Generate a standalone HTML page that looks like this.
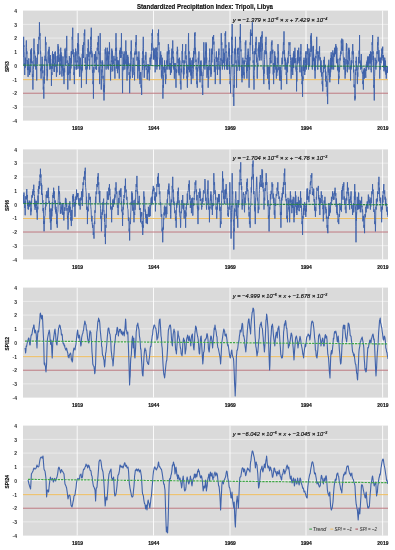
<!DOCTYPE html><html><head><meta charset="utf-8"><style>
html,body{margin:0;padding:0;background:#fff;overflow:hidden;}
svg{display:block;}
text{font-family:"Liberation Sans",sans-serif;}
</style></head><body>
<svg width="395" height="550" viewBox="0 0 395 550">
<defs><filter id="bl" x="-5%" y="-5%" width="110%" height="110%"><feGaussianBlur stdDeviation="0.3"/></filter><filter id="bt" x="-5%" y="-5%" width="110%" height="110%"><feGaussianBlur stdDeviation="0.0001"/></filter></defs>
<rect x="0" y="0" width="395" height="550" fill="#fff"/>
<g filter="url(#bl)">

<rect x="23.0" y="10.6" width="365.0" height="110.0" fill="#dadada"/>
<line x1="23.0" x2="388.0" y1="106.85" y2="106.85" stroke="#f6f6f6" stroke-width="0.6"/>
<line x1="23.0" x2="388.0" y1="93.10" y2="93.10" stroke="#f6f6f6" stroke-width="0.6"/>
<line x1="23.0" x2="388.0" y1="79.35" y2="79.35" stroke="#f6f6f6" stroke-width="0.6"/>
<line x1="23.0" x2="388.0" y1="65.60" y2="65.60" stroke="#f6f6f6" stroke-width="0.6"/>
<line x1="23.0" x2="388.0" y1="51.85" y2="51.85" stroke="#f6f6f6" stroke-width="0.6"/>
<line x1="23.0" x2="388.0" y1="38.10" y2="38.10" stroke="#f6f6f6" stroke-width="0.6"/>
<line x1="23.0" x2="388.0" y1="24.35" y2="24.35" stroke="#f6f6f6" stroke-width="0.6"/>
<line x1="77.2" x2="77.2" y1="10.6" y2="120.6" stroke="#fff" stroke-width="0.85"/>
<line x1="153.5" x2="153.5" y1="10.6" y2="120.6" stroke="#fff" stroke-width="0.85"/>
<line x1="230.0" x2="230.0" y1="10.6" y2="120.6" stroke="#fff" stroke-width="0.85"/>
<line x1="306.0" x2="306.0" y1="10.6" y2="120.6" stroke="#fff" stroke-width="0.85"/>
<line x1="382.6" x2="382.6" y1="10.6" y2="120.6" stroke="#fff" stroke-width="0.85"/>
<line x1="23.0" x2="388.0" y1="79.65" y2="79.65" stroke="#efbd5e" stroke-width="1.0"/>
<line x1="23.0" x2="388.0" y1="93.20" y2="93.20" stroke="#a84c55" stroke-width="0.75"/>
<clipPath id="cp0"><rect x="23.0" y="10.6" width="365.0" height="110.0"/></clipPath>
<path clip-path="url(#cp0)" d="M23.09 65.91 L23.23 56.15 L23.37 56.73 L23.50 49.04 L23.64 36.82 L23.77 46.93 L23.91 45.37 L24.05 51.13 L24.18 51.36 L24.32 64.04 L24.45 63.22 L24.59 69.54 L24.73 75.00 L24.87 67.75 L25.00 67.65 L25.13 65.59 L25.27 67.73 L25.41 57.70 L25.55 66.69 L25.68 63.86 L25.82 60.45 L25.95 60.83 L26.09 46.28 L26.23 43.49 L26.36 40.45 L26.50 47.41 L26.63 51.09 L26.77 54.11 L26.91 51.36 L27.05 58.77 L27.18 64.16 L27.31 60.04 L27.45 69.55 L27.59 68.69 L27.73 70.07 L27.86 66.80 L28.00 76.82 L28.14 76.81 L28.27 68.38 L28.41 69.85 L28.55 60.45 L28.69 58.39 L28.82 58.41 L28.95 61.27 L29.09 65.91 L29.23 65.13 L29.37 70.33 L29.50 69.36 L29.64 75.00 L29.77 67.10 L29.91 66.80 L30.05 66.80 L30.18 69.55 L30.32 72.28 L30.45 58.84 L30.59 62.36 L30.73 51.36 L30.87 54.11 L31.00 49.50 L31.13 54.11 L31.27 49.55 L31.41 63.20 L31.55 48.29 L31.68 58.96 L31.82 60.45 L31.95 63.28 L32.09 61.41 L32.23 70.69 L32.36 76.82 L32.50 74.07 L32.63 74.07 L32.77 79.36 L32.91 89.55 L33.05 77.76 L33.18 76.78 L33.31 77.00 L33.45 69.55 L33.59 64.63 L33.73 59.43 L33.86 47.77 L34.00 38.64 L34.14 54.11 L34.27 50.55 L34.41 53.02 L34.55 51.36 L34.69 51.63 L34.82 54.85 L34.95 58.84 L35.09 64.09 L35.23 66.84 L35.37 55.89 L35.50 55.89 L35.64 58.64 L35.77 61.39 L35.91 69.37 L36.05 65.98 L36.18 69.55 L36.32 66.80 L36.45 66.80 L36.59 68.08 L36.73 80.45 L36.86 59.50 L37.00 57.70 L37.14 63.92 L37.27 60.45 L37.41 60.48 L37.55 53.24 L37.68 51.68 L37.82 44.09 L37.95 52.70 L38.09 54.11 L38.23 54.11 L38.36 51.36 L38.50 54.11 L38.63 52.63 L38.77 39.17 L38.91 36.82 L39.05 39.57 L39.18 39.57 L39.31 39.57 L39.45 22.27 L39.59 30.02 L39.73 35.93 L39.86 35.93 L40.00 33.18 L40.14 38.01 L40.27 49.23 L40.41 54.11 L40.55 51.36 L40.69 51.69 L40.82 71.16 L40.95 68.75 L41.09 78.64 L41.23 67.83 L41.37 69.31 L41.50 69.96 L41.64 69.55 L41.77 64.35 L41.91 68.40 L42.05 56.87 L42.18 56.82 L42.32 58.51 L42.45 68.56 L42.59 65.02 L42.73 73.18 L42.86 70.43 L43.00 77.06 L43.14 81.96 L43.27 89.55 L43.41 86.80 L43.55 86.80 L43.68 86.80 L43.82 98.64 L43.95 80.00 L44.09 76.68 L44.23 83.55 L44.36 78.64 L44.50 65.16 L44.63 75.46 L44.77 59.28 L44.91 60.45 L45.05 55.79 L45.18 60.64 L45.31 60.42 L45.45 36.82 L45.59 45.02 L45.73 45.02 L45.86 45.02 L46.00 42.27 L46.14 56.78 L46.27 61.38 L46.41 59.52 L46.55 60.45 L46.69 66.05 L46.82 70.18 L46.95 69.53 L47.09 80.45 L47.23 73.12 L47.37 70.21 L47.50 76.34 L47.64 65.91 L47.77 62.94 L47.91 56.98 L48.05 55.47 L48.18 51.36 L48.32 54.11 L48.45 54.11 L48.59 53.59 L48.73 49.55 L48.86 59.26 L49.00 63.20 L49.14 46.80 L49.27 60.45 L49.41 57.70 L49.55 65.47 L49.68 67.45 L49.82 69.55 L49.95 66.17 L50.09 60.67 L50.23 64.83 L50.36 55.00 L50.50 62.04 L50.63 58.98 L50.77 68.66 L50.91 65.91 L51.05 68.82 L51.18 66.32 L51.31 71.32 L51.45 85.91 L51.59 72.25 L51.73 72.25 L51.86 72.25 L52.00 75.00 L52.14 63.49 L52.27 68.76 L52.41 53.83 L52.55 51.36 L52.69 58.60 L52.82 63.20 L52.95 63.20 L53.09 60.45 L53.23 63.20 L53.37 54.07 L53.50 59.39 L53.64 56.82 L53.77 60.63 L53.91 67.52 L54.05 71.69 L54.18 69.55 L54.32 63.16 L54.45 71.97 L54.59 63.16 L54.73 65.91 L54.86 65.92 L55.00 52.14 L55.14 59.50 L55.27 51.36 L55.41 63.20 L55.55 57.22 L55.68 60.23 L55.82 60.45 L55.95 66.92 L56.09 65.36 L56.23 66.14 L56.36 76.82 L56.50 76.76 L56.63 73.18 L56.77 66.80 L56.91 69.55 L57.05 72.30 L57.18 56.04 L57.31 65.78 L57.45 56.82 L57.59 55.65 L57.73 56.25 L57.86 57.81 L58.00 44.09 L58.14 54.11 L58.27 54.11 L58.41 46.56 L58.55 51.36 L58.69 49.20 L58.82 62.02 L58.95 54.47 L59.09 60.45 L59.23 57.70 L59.37 57.70 L59.50 73.61 L59.64 75.00 L59.77 71.29 L59.91 74.15 L60.05 63.16 L60.18 65.91 L60.32 61.68 L60.45 53.13 L60.59 61.35 L60.73 47.73 L60.86 57.75 L61.00 52.31 L61.14 57.75 L61.27 55.00 L61.41 67.34 L61.55 63.43 L61.68 56.06 L61.82 75.00 L61.95 76.58 L62.09 67.41 L62.23 64.98 L62.36 67.73 L62.50 67.15 L62.63 66.07 L62.77 70.48 L62.91 58.64 L63.05 56.52 L63.18 69.97 L63.31 73.49 L63.45 71.36 L63.59 75.63 L63.73 68.61 L63.86 68.61 L64.00 84.09 L64.14 76.90 L64.28 70.11 L64.41 68.34 L64.55 69.55 L64.69 72.30 L64.82 61.03 L64.95 48.61 L65.09 51.36 L65.23 57.38 L65.37 50.68 L65.50 65.02 L65.64 62.27 L65.78 63.14 L65.91 56.22 L66.05 57.71 L66.18 47.73 L66.32 50.48 L66.46 50.48 L66.59 50.48 L66.73 35.91 L66.87 53.36 L67.00 62.49 L67.13 63.20 L67.27 60.45 L67.41 74.90 L67.54 65.99 L67.68 78.16 L67.82 89.55 L67.95 72.25 L68.09 72.25 L68.22 72.25 L68.36 75.00 L68.50 72.99 L68.63 63.16 L68.77 64.77 L68.91 65.91 L69.05 60.57 L69.18 60.33 L69.31 56.10 L69.45 56.82 L69.59 61.86 L69.72 73.38 L69.86 66.73 L70.00 80.45 L70.14 71.82 L70.28 73.04 L70.41 66.80 L70.55 69.55 L70.69 57.95 L70.82 60.69 L70.95 68.51 L71.09 60.45 L71.23 51.35 L71.37 55.98 L71.50 63.20 L71.64 51.36 L71.78 54.11 L71.91 52.63 L72.05 54.11 L72.18 36.82 L72.32 39.57 L72.46 39.53 L72.59 36.28 L72.73 27.73 L72.87 43.15 L73.00 54.11 L73.13 49.46 L73.27 51.36 L73.41 53.37 L73.54 57.05 L73.68 55.82 L73.82 75.00 L73.95 72.25 L74.09 72.25 L74.22 72.25 L74.36 84.09 L74.50 66.80 L74.63 68.03 L74.77 66.80 L74.91 69.55 L75.05 52.25 L75.18 62.41 L75.31 55.09 L75.45 55.00 L75.59 48.61 L75.72 49.63 L75.86 55.59 L76.00 51.36 L76.14 54.78 L76.28 63.87 L76.41 65.97 L76.55 69.55 L76.69 67.77 L76.82 64.77 L76.95 69.17 L77.09 60.45 L77.23 62.35 L77.37 59.16 L77.50 43.17 L77.64 44.09 L77.78 46.84 L77.91 46.84 L78.05 46.83 L78.18 33.18 L78.32 46.86 L78.46 54.11 L78.59 44.31 L78.73 51.36 L78.87 60.51 L79.00 68.66 L79.13 56.47 L79.27 65.91 L79.41 68.48 L79.54 76.42 L79.68 66.75 L79.82 76.82 L79.95 69.36 L80.09 69.19 L80.22 57.70 L80.36 60.45 L80.50 59.74 L80.63 62.97 L80.77 67.04 L80.91 69.55 L81.05 66.80 L81.18 66.80 L81.31 66.80 L81.45 87.73 L81.59 67.92 L81.72 72.53 L81.86 66.80 L82.00 69.55 L82.14 56.53 L82.28 53.87 L82.41 70.44 L82.55 47.73 L82.69 57.75 L82.82 57.75 L82.95 44.98 L83.09 55.00 L83.23 57.75 L83.37 57.05 L83.50 57.75 L83.64 42.27 L83.78 45.02 L83.91 45.02 L84.05 45.02 L84.18 33.18 L84.32 34.87 L84.46 35.93 L84.59 35.93 L84.73 29.55 L84.87 42.94 L85.00 57.96 L85.13 63.20 L85.27 60.45 L85.41 57.70 L85.54 57.70 L85.68 62.36 L85.82 69.55 L85.95 66.80 L86.09 66.80 L86.22 66.80 L86.36 84.09 L86.50 79.60 L86.63 71.83 L86.77 66.80 L86.91 69.55 L87.05 54.07 L87.18 68.49 L87.31 62.98 L87.45 56.82 L87.59 59.57 L87.72 58.37 L87.86 48.21 L88.00 49.55 L88.14 52.30 L88.28 39.52 L88.41 45.57 L88.55 42.27 L88.69 51.32 L88.82 56.79 L88.95 52.19 L89.09 60.45 L89.23 59.37 L89.37 63.71 L89.50 64.40 L89.64 69.55 L89.78 65.26 L89.91 60.63 L90.05 55.42 L90.18 51.36 L90.32 54.11 L90.46 51.84 L90.59 45.21 L90.73 36.82 L90.87 39.57 L91.00 39.57 L91.13 39.57 L91.27 27.73 L91.41 47.42 L91.54 49.51 L91.68 53.43 L91.82 51.36 L91.95 57.34 L92.09 53.43 L92.22 64.94 L92.36 69.55 L92.50 72.86 L92.63 71.27 L92.77 69.66 L92.91 84.09 L93.05 81.34 L93.18 81.34 L93.31 81.34 L93.45 98.64 L93.59 76.10 L93.72 67.02 L93.86 72.57 L94.00 69.55 L94.14 57.34 L94.28 54.07 L94.41 54.41 L94.55 56.82 L94.69 63.20 L94.82 57.60 L94.95 54.07 L95.09 60.45 L95.23 55.43 L95.37 61.36 L95.50 60.09 L95.64 51.36 L95.78 59.47 L95.91 68.93 L96.05 66.93 L96.18 69.55 L96.32 63.61 L96.46 65.42 L96.59 69.64 L96.73 56.82 L96.87 59.57 L97.00 59.57 L97.13 48.33 L97.27 47.73 L97.41 50.22 L97.54 50.48 L97.68 48.04 L97.82 42.27 L97.95 45.02 L98.09 45.02 L98.22 45.02 L98.36 35.91 L98.50 47.83 L98.63 54.11 L98.77 54.11 L98.91 51.36 L98.95 56.23 L99.00 60.18 L99.05 72.30 L99.09 69.55 L99.23 66.80 L99.37 73.03 L99.50 75.43 L99.64 84.09 L99.78 66.36 L99.91 53.55 L100.05 54.63 L100.18 33.18 L100.32 54.30 L100.46 61.95 L100.59 63.20 L100.73 60.45 L100.87 68.21 L101.00 76.41 L101.13 78.32 L101.27 89.55 L101.41 78.79 L101.54 75.46 L101.68 71.32 L101.82 69.55 L101.95 72.30 L102.09 62.31 L102.22 63.52 L102.36 60.45 L102.50 68.07 L102.63 62.26 L102.77 70.19 L102.91 78.64 L103.05 75.89 L103.18 75.89 L103.31 82.30 L103.45 91.36 L103.59 88.61 L103.72 88.61 L103.86 88.61 L104.00 100.45 L104.14 84.98 L104.28 92.22 L104.41 84.98 L104.55 87.73 L104.69 80.00 L104.82 64.59 L104.95 63.88 L105.09 51.36 L105.23 49.15 L105.37 54.11 L105.50 54.11 L105.64 47.73 L105.78 49.39 L105.91 62.27 L106.05 68.75 L106.18 69.55 L106.32 57.70 L106.46 57.70 L106.59 58.14 L106.73 60.45 L106.87 57.36 L107.00 51.51 L107.13 57.81 L107.27 47.73 L107.41 57.76 L107.54 59.57 L107.68 59.57 L107.82 56.82 L107.95 68.53 L108.09 68.26 L108.22 56.23 L108.36 69.55 L108.50 59.46 L108.63 54.13 L108.77 51.77 L108.91 51.36 L109.05 54.11 L109.18 53.63 L109.31 54.11 L109.45 42.27 L109.59 45.87 L109.72 50.74 L109.86 60.38 L110.00 65.91 L110.14 63.97 L110.28 65.17 L110.41 68.36 L110.55 80.45 L110.69 66.80 L110.82 72.00 L110.95 68.73 L111.09 69.55 L111.23 64.64 L111.37 60.29 L111.50 61.89 L111.64 60.45 L111.78 48.61 L111.91 54.11 L112.05 58.58 L112.18 51.36 L112.32 50.76 L112.46 62.63 L112.59 64.85 L112.73 71.36 L112.87 59.52 L113.00 62.64 L113.13 61.16 L113.27 62.27 L113.41 63.70 L113.54 63.85 L113.68 59.61 L113.82 56.82 L113.95 55.90 L114.09 61.38 L114.22 63.40 L114.36 69.55 L114.50 70.21 L114.63 68.93 L114.77 66.80 L114.91 78.64 L115.05 58.65 L115.18 60.64 L115.31 55.21 L115.45 51.36 L115.59 48.11 L115.72 51.32 L115.86 46.98 L116.00 33.18 L116.14 49.95 L116.28 50.48 L116.41 50.48 L116.55 47.73 L116.69 68.66 L116.82 56.94 L116.95 67.04 L117.09 65.91 L117.23 64.52 L117.37 70.89 L117.50 63.16 L117.64 73.18 L117.78 60.11 L117.91 64.01 L118.05 64.38 L118.18 60.45 L118.32 68.66 L118.46 61.39 L118.59 67.34 L118.73 65.91 L118.87 67.07 L119.00 69.65 L119.13 68.84 L119.27 78.64 L119.41 64.86 L119.54 65.11 L119.68 52.97 L119.82 51.36 L119.95 54.11 L120.09 49.93 L120.22 54.11 L120.36 47.73 L120.50 57.75 L120.63 55.17 L120.77 57.41 L120.91 55.00 L121.05 57.75 L121.18 52.56 L121.31 45.24 L121.45 33.18 L121.59 50.58 L121.72 54.11 L121.86 54.11 L122.00 51.36 L122.14 56.47 L122.28 75.58 L122.41 80.34 L122.55 93.18 L122.69 72.53 L122.82 70.95 L122.95 66.80 L123.09 69.55 L123.23 70.21 L123.37 57.70 L123.50 63.86 L123.64 60.45 L123.78 56.19 L123.91 53.87 L124.05 60.51 L124.18 51.36 L124.32 65.48 L124.46 60.36 L124.59 58.97 L124.73 69.55 L124.87 68.96 L125.00 63.08 L125.13 63.93 L125.27 60.45 L125.41 63.20 L125.54 63.20 L125.68 51.81 L125.82 40.45 L125.95 54.11 L126.09 54.11 L126.22 54.11 L126.36 51.36 L126.50 58.10 L126.63 64.82 L126.77 58.85 L126.91 78.64 L127.05 80.58 L127.18 77.13 L127.31 66.80 L127.45 69.55 L127.59 57.09 L127.72 54.86 L127.86 68.65 L128.00 56.82 L128.14 58.82 L128.28 62.15 L128.41 61.90 L128.55 65.91 L128.69 65.33 L128.82 63.16 L128.96 68.40 L129.09 75.00 L129.23 72.25 L129.37 74.40 L129.50 78.76 L129.64 93.18 L129.77 80.82 L129.91 75.89 L130.05 75.89 L130.18 78.64 L130.32 70.37 L130.45 63.42 L130.59 71.29 L130.73 51.36 L130.87 54.11 L131.00 54.11 L131.13 52.72 L131.27 40.45 L131.41 52.69 L131.55 53.90 L131.68 59.61 L131.82 60.45 L131.95 66.93 L132.09 69.97 L132.23 72.08 L132.36 75.00 L132.50 77.75 L132.63 66.80 L132.77 67.57 L132.91 69.55 L133.04 72.30 L133.18 57.70 L133.31 58.97 L133.45 60.45 L133.59 62.64 L133.72 64.38 L133.86 67.59 L134.00 75.00 L134.14 72.25 L134.28 72.25 L134.41 72.25 L134.55 80.45 L134.69 71.27 L134.82 52.98 L134.96 54.88 L135.09 51.36 L135.23 54.11 L135.37 48.55 L135.50 47.35 L135.64 42.27 L135.77 45.02 L135.91 45.02 L136.05 45.02 L136.18 35.00 L136.32 54.11 L136.45 54.11 L136.59 54.11 L136.73 51.36 L137.00 60.59 L137.27 56.83 L137.55 67.82 L137.82 78.64 L137.95 73.22 L138.09 66.22 L138.23 66.99 L138.36 65.91 L138.50 68.42 L138.63 57.65 L138.77 64.18 L138.91 51.36 L139.04 71.15 L139.18 60.13 L139.31 66.26 L139.45 69.55 L139.59 68.61 L139.72 79.73 L139.86 74.82 L140.00 84.09 L140.14 79.08 L140.28 72.25 L140.41 72.25 L140.55 75.00 L140.69 73.22 L140.82 72.25 L140.96 84.38 L141.09 87.73 L141.23 84.98 L141.37 84.98 L141.50 85.07 L141.64 95.00 L141.77 77.57 L141.91 77.57 L142.05 73.94 L142.18 69.55 L142.32 58.09 L142.45 62.89 L142.59 69.99 L142.73 51.36 L142.87 54.11 L143.00 50.28 L143.13 46.61 L143.27 36.82 L143.41 48.41 L143.55 59.92 L143.68 63.20 L143.82 60.45 L143.95 68.02 L144.09 68.83 L144.23 77.75 L144.36 75.00 L144.50 66.67 L144.63 64.68 L144.77 70.16 L144.91 65.91 L145.04 67.09 L145.18 57.36 L145.31 55.37 L145.45 56.82 L145.59 59.57 L145.72 59.57 L145.86 51.83 L146.00 53.18 L146.14 60.06 L146.28 60.23 L146.41 67.79 L146.55 69.55 L146.69 68.61 L146.82 69.91 L146.96 69.58 L147.09 78.64 L147.23 78.30 L147.37 79.47 L147.50 70.43 L147.64 73.18 L147.77 73.81 L147.91 64.08 L148.05 67.74 L148.18 65.91 L148.32 69.93 L148.45 72.30 L148.59 64.61 L148.73 69.55 L148.87 66.97 L149.00 69.82 L149.13 66.80 L149.27 80.45 L149.41 69.56 L149.55 66.80 L149.68 68.79 L149.82 69.55 L149.95 57.70 L150.09 57.70 L150.23 61.84 L150.36 60.45 L150.50 61.61 L150.63 57.70 L150.77 65.97 L150.91 64.09 L151.04 57.67 L151.18 54.25 L151.31 58.62 L151.45 51.36 L151.59 43.33 L151.72 45.96 L151.86 47.30 L152.00 33.18 L152.14 35.93 L152.28 35.93 L152.41 35.93 L152.55 29.55 L152.69 40.84 L152.82 48.37 L152.96 50.48 L153.09 47.73 L153.23 48.24 L153.37 59.57 L153.50 50.74 L153.64 56.82 L153.77 54.66 L153.91 54.83 L154.05 58.83 L154.18 51.36 L154.32 48.61 L154.45 48.61 L154.59 58.49 L154.73 60.45 L154.87 60.79 L155.00 60.98 L155.13 72.30 L155.27 69.55 L155.41 57.98 L155.55 55.52 L155.68 56.51 L155.82 47.73 L155.95 53.24 L156.09 61.95 L156.23 47.58 L156.36 60.45 L156.50 57.70 L156.63 57.70 L156.77 64.87 L156.91 69.55 L157.04 57.36 L157.18 62.21 L157.31 66.71 L157.45 51.36 L157.59 50.53 L157.72 46.89 L157.86 43.26 L158.00 33.18 L158.14 35.93 L158.28 35.93 L158.41 35.93 L158.55 29.55 L158.69 44.59 L158.82 45.02 L158.96 45.02 L159.09 42.27 L159.23 58.40 L159.37 59.50 L159.50 59.41 L159.64 69.55 L159.77 67.63 L159.91 62.00 L160.05 57.70 L160.18 60.45 L160.32 63.20 L160.45 61.37 L160.59 52.41 L160.73 51.36 L160.87 64.92 L161.00 63.16 L161.13 54.93 L161.27 69.55 L161.41 76.67 L161.55 70.79 L161.68 74.99 L161.82 78.64 L161.95 71.79 L162.09 67.60 L162.23 57.70 L162.36 60.45 L162.50 75.57 L162.63 75.17 L162.77 78.20 L162.91 98.64 L163.04 85.46 L163.18 84.98 L163.31 84.98 L163.45 87.73 L163.59 74.78 L163.72 74.35 L163.86 66.80 L164.00 69.55 L164.14 66.71 L164.28 71.62 L164.41 72.30 L164.55 60.45 L164.69 64.62 L164.82 67.10 L164.96 72.30 L165.09 69.55 L165.23 69.05 L165.37 76.70 L165.50 83.71 L165.64 84.09 L165.77 74.35 L165.91 79.06 L166.05 66.80 L166.18 69.55 L166.32 68.22 L166.45 65.52 L166.59 65.44 L166.73 60.45 L166.87 63.20 L167.00 63.20 L167.13 55.73 L167.27 51.36 L167.41 57.12 L167.55 65.29 L167.68 59.02 L167.82 69.55 L167.95 66.65 L168.09 63.88 L168.23 56.03 L168.36 44.09 L168.50 54.11 L168.63 47.32 L168.77 54.11 L168.91 51.36 L169.04 50.24 L169.18 57.18 L169.31 60.23 L169.45 69.55 L169.59 63.16 L169.72 68.29 L169.86 63.56 L170.00 65.91 L170.14 63.16 L170.28 67.85 L170.41 74.69 L170.55 75.00 L170.69 67.19 L170.82 68.48 L170.96 72.61 L171.09 69.55 L171.23 65.90 L171.37 57.70 L171.50 72.30 L171.64 60.45 L171.77 63.20 L171.91 48.61 L172.05 58.16 L172.18 51.36 L172.32 54.11 L172.45 54.11 L172.59 54.11 L172.73 40.45 L172.87 53.52 L173.00 51.27 L173.13 59.57 L173.27 56.82 L173.41 67.77 L173.55 57.68 L173.68 59.61 L173.82 69.55 L173.95 67.26 L174.09 66.80 L174.23 68.24 L174.36 78.64 L174.50 66.60 L174.63 69.89 L174.77 63.16 L174.91 65.91 L175.18 63.16 L175.45 67.76 L175.73 72.38 L176.00 87.73 L176.14 69.81 L176.28 71.26 L176.41 73.04 L176.55 69.55 L176.69 71.90 L176.82 72.30 L176.96 56.53 L177.09 51.36 L177.23 54.11 L177.37 46.80 L177.50 54.11 L177.64 49.55 L177.77 57.13 L177.91 62.30 L178.05 63.20 L178.18 60.45 L178.32 58.80 L178.45 70.42 L178.59 69.31 L178.73 73.18 L178.87 66.80 L179.00 70.80 L179.13 75.31 L179.27 69.55 L179.41 57.70 L179.55 69.51 L179.68 65.08 L179.82 60.45 L179.95 68.01 L180.09 70.78 L180.23 78.48 L180.36 84.09 L180.50 81.34 L180.63 81.34 L180.77 81.34 L180.91 89.55 L181.04 79.58 L181.18 68.60 L181.31 69.98 L181.45 69.55 L181.59 72.30 L181.72 66.02 L181.86 60.42 L182.00 51.36 L182.14 51.08 L182.28 52.12 L182.41 54.11 L182.55 44.09 L182.69 61.13 L182.82 60.35 L182.96 62.93 L183.09 60.45 L183.23 64.31 L183.37 74.25 L183.50 66.94 L183.64 78.64 L183.77 67.63 L183.91 74.40 L184.05 68.73 L184.18 69.55 L184.32 64.26 L184.45 61.48 L184.59 62.10 L184.73 60.45 L184.87 63.20 L185.00 60.96 L185.13 51.23 L185.27 51.36 L185.41 54.11 L185.55 54.11 L185.68 47.82 L185.82 44.09 L185.95 59.20 L186.09 55.45 L186.23 57.19 L186.36 60.45 L186.50 68.22 L186.63 73.38 L186.77 64.61 L186.91 78.64 L187.04 75.89 L187.18 75.89 L187.31 86.63 L187.45 87.73 L187.59 70.15 L187.72 77.17 L187.86 66.80 L188.00 69.55 L188.14 66.49 L188.28 69.69 L188.41 38.96 L188.55 33.18 L188.69 48.69 L188.82 54.11 L188.96 54.11 L189.09 51.36 L189.23 57.34 L189.37 72.30 L189.50 66.00 L189.64 69.55 L189.77 58.49 L189.91 71.10 L190.05 57.70 L190.18 60.45 L190.32 71.24 L190.45 62.87 L190.59 67.98 L190.73 69.55 L190.87 75.50 L191.00 71.03 L191.13 66.80 L191.27 84.09 L191.41 70.43 L191.55 76.03 L191.68 72.24 L191.82 73.18 L191.95 60.35 L192.09 67.98 L192.23 64.39 L192.36 60.45 L192.50 66.60 L192.63 57.70 L192.77 65.93 L192.91 78.64 L193.04 74.31 L193.18 72.25 L193.31 71.93 L193.45 69.55 L193.59 50.96 L193.72 63.13 L193.86 62.64 L194.00 51.36 L194.14 54.11 L194.28 48.39 L194.41 49.55 L194.55 33.18 L194.69 35.93 L194.82 35.93 L194.96 35.93 L195.09 32.27 L195.23 54.11 L195.37 47.75 L195.50 54.11 L195.64 51.36 L195.77 55.98 L195.91 62.02 L196.05 59.63 L196.18 69.55 L196.32 66.80 L196.45 75.59 L196.59 73.07 L196.73 84.09 L196.87 81.34 L197.00 81.34 L197.13 81.34 L197.27 87.73 L197.41 67.63 L197.55 70.13 L197.68 71.43 L197.82 69.55 L197.95 68.93 L198.09 63.05 L198.23 57.70 L198.36 60.45 L198.50 63.20 L198.63 63.20 L198.77 61.15 L198.91 51.36 L199.04 62.59 L199.18 67.85 L199.31 66.33 L199.45 69.55 L199.59 67.74 L199.72 70.90 L199.86 73.27 L200.00 82.27 L200.14 72.38 L200.28 67.79 L200.41 76.07 L200.55 69.55 L200.69 61.31 L200.82 71.01 L200.96 60.66 L201.09 60.45 L201.23 68.34 L201.37 75.77 L201.50 71.15 L201.64 75.00 L201.77 72.25 L201.91 75.13 L202.05 77.27 L202.18 87.73 L202.32 84.98 L202.45 84.98 L202.59 84.98 L202.73 95.00 L202.87 75.22 L203.00 75.05 L203.13 75.47 L203.27 69.55 L203.41 68.75 L203.55 66.10 L203.68 60.95 L203.82 42.27 L203.95 54.85 L204.09 58.60 L204.23 59.49 L204.36 60.45 L204.50 63.19 L204.63 65.06 L204.77 57.70 L204.91 69.55 L205.04 64.81 L205.18 64.24 L205.31 56.74 L205.45 51.36 L205.59 54.11 L205.72 54.11 L205.86 54.11 L206.00 42.27 L206.14 63.20 L206.28 43.67 L206.41 59.14 L206.55 60.45 L206.69 57.70 L206.82 70.74 L206.96 77.75 L207.09 75.00 L207.23 66.80 L207.37 68.99 L207.50 70.46 L207.64 69.55 L207.77 68.20 L207.91 75.17 L208.05 66.80 L208.18 87.73 L208.32 79.88 L208.45 76.10 L208.59 75.89 L208.73 78.64 L208.87 65.65 L209.00 70.12 L209.13 61.66 L209.27 60.45 L209.41 61.73 L209.55 56.56 L209.68 48.61 L209.82 51.36 L209.95 58.88 L210.09 62.44 L210.23 67.75 L210.36 69.55 L210.50 66.80 L210.63 67.23 L210.77 71.72 L210.91 76.82 L211.04 68.16 L211.18 72.15 L211.31 74.22 L211.45 60.45 L211.59 55.02 L211.72 48.61 L211.86 62.45 L212.00 51.36 L212.14 54.11 L212.28 54.11 L212.41 54.11 L212.55 36.82 L212.82 39.57 L213.09 39.57 L213.37 39.57 L213.64 35.00 L213.77 44.51 L213.91 41.60 L214.05 48.13 L214.18 51.36 L214.32 72.10 L214.45 71.24 L214.59 59.16 L214.73 69.55 L214.87 66.80 L215.00 69.63 L215.13 66.80 L215.27 84.09 L215.41 76.89 L215.55 67.44 L215.68 66.80 L215.82 69.55 L215.95 69.51 L216.09 56.83 L216.23 58.98 L216.36 51.36 L216.50 57.81 L216.63 57.29 L216.77 61.94 L216.91 60.45 L217.04 60.70 L217.18 57.70 L217.31 57.70 L217.45 75.00 L217.59 66.80 L217.72 66.80 L217.86 67.93 L218.00 69.55 L218.14 64.54 L218.28 65.02 L218.41 60.34 L218.55 51.36 L218.69 53.38 L218.82 54.98 L218.96 48.61 L219.09 60.45 L219.23 60.90 L219.37 65.64 L219.50 67.02 L219.64 69.55 L219.77 66.80 L219.91 67.75 L220.05 75.67 L220.18 84.09 L220.32 69.47 L220.45 70.49 L220.59 66.68 L220.73 60.45 L220.87 58.18 L221.00 60.78 L221.13 47.04 L221.27 33.18 L221.41 45.02 L221.55 43.81 L221.68 45.00 L221.82 42.27 L221.95 61.41 L222.09 65.93 L222.23 59.79 L222.36 69.55 L222.50 64.51 L222.63 66.71 L222.77 63.55 L222.91 60.45 L223.04 63.20 L223.18 48.61 L223.31 50.87 L223.45 51.36 L223.59 56.42 L223.72 62.96 L223.86 56.77 L224.00 60.45 L224.14 57.70 L224.28 57.70 L224.41 57.70 L224.55 69.55 L224.69 52.87 L224.82 61.30 L224.96 45.06 L225.09 33.18 L225.23 35.93 L225.37 35.93 L225.50 35.93 L225.64 31.36 L225.77 47.56 L225.91 44.85 L226.05 52.97 L226.18 51.36 L226.32 64.69 L226.45 61.47 L226.59 67.25 L226.73 69.55 L226.87 63.25 L227.00 64.41 L227.13 59.33 L227.27 60.45 L227.41 63.76 L227.55 69.70 L227.68 57.70 L227.82 69.55 L227.95 61.75 L228.09 61.15 L228.23 54.41 L228.36 51.36 L228.50 51.64 L228.63 54.11 L228.77 54.11 L228.91 42.27 L229.04 55.87 L229.18 56.48 L229.31 48.42 L229.45 60.45 L229.59 74.04 L229.72 66.82 L229.86 69.17 L230.00 84.09 L230.14 81.34 L230.28 81.34 L230.41 81.34 L230.55 93.18 L230.69 77.09 L230.82 76.31 L230.96 70.96 L231.09 69.55 L231.23 65.46 L231.37 55.14 L231.50 63.60 L231.64 36.82 L231.77 39.57 L231.91 37.83 L232.05 39.57 L232.18 24.09 L232.32 43.93 L232.45 45.98 L232.59 52.99 L232.73 51.36 L232.87 66.51 L233.00 64.09 L233.13 75.52 L233.27 96.82 L233.41 94.07 L233.55 94.07 L233.68 94.07 L233.82 105.91 L233.95 84.98 L234.09 84.98 L234.23 84.98 L234.36 87.73 L234.50 74.83 L234.63 65.75 L234.77 48.61 L234.91 51.36 L235.04 54.11 L235.18 48.67 L235.31 54.11 L235.45 36.82 L235.59 50.86 L235.72 57.98 L235.86 63.20 L236.00 60.45 L236.14 61.32 L236.28 64.30 L236.41 66.14 L236.55 87.73 L236.69 66.80 L236.82 66.80 L236.96 70.82 L237.09 69.55 L237.23 58.31 L237.37 49.27 L237.50 49.12 L237.64 51.36 L237.77 54.11 L237.91 48.43 L238.05 50.22 L238.18 47.73 L238.32 55.44 L238.45 62.67 L238.59 63.20 L238.73 60.45 L238.87 66.43 L239.00 62.68 L239.13 64.04 L239.27 69.55 L239.41 70.61 L239.55 64.47 L239.68 50.81 L239.82 36.82 L239.95 39.57 L240.09 39.57 L240.23 39.57 L240.36 24.09 L240.50 42.41 L240.63 41.27 L240.77 49.04 L240.91 51.36 L241.04 49.51 L241.18 67.01 L241.31 65.50 L241.45 69.55 L241.59 66.80 L241.72 75.75 L241.86 74.57 L242.00 82.27 L242.14 66.80 L242.28 77.72 L242.41 70.45 L242.55 69.55 L242.69 72.30 L242.82 57.70 L242.96 63.35 L243.09 60.45 L243.23 64.07 L243.37 64.67 L243.50 66.33 L243.64 75.00 L243.77 75.13 L243.91 72.25 L244.05 72.25 L244.18 78.64 L244.32 61.63 L244.45 63.96 L244.59 61.42 L244.73 60.45 L244.87 62.05 L245.00 59.23 L245.13 55.66 L245.27 42.27 L245.41 45.02 L245.55 45.02 L245.68 45.02 L245.82 40.45 L245.95 59.04 L246.09 57.90 L246.23 58.07 L246.36 60.45 L246.50 72.81 L246.63 63.27 L246.77 72.38 L246.91 78.64 L247.04 75.07 L247.18 66.80 L247.31 70.99 L247.45 69.55 L247.59 55.16 L247.72 64.59 L247.86 57.85 L248.00 51.36 L248.14 48.61 L248.28 58.82 L248.41 51.37 L248.55 60.45 L248.69 67.31 L248.82 59.94 L248.96 66.17 L249.09 87.73 L249.23 70.68 L249.37 66.80 L249.50 66.80 L249.64 69.55 L249.77 57.15 L249.91 60.48 L250.05 53.40 L250.18 42.27 L250.32 45.02 L250.45 32.03 L250.59 45.02 L250.73 29.55 L251.00 35.93 L251.27 34.57 L251.55 35.93 L251.82 33.18 L251.95 35.93 L252.09 35.93 L252.23 34.71 L252.36 22.27 L252.50 50.82 L252.63 45.07 L252.77 54.11 L252.91 51.36 L253.04 54.84 L253.18 62.79 L253.31 60.45 L253.45 78.64 L253.59 75.89 L253.72 75.89 L253.86 75.89 L254.00 89.55 L254.14 77.57 L254.28 71.32 L254.41 66.80 L254.55 69.55 L254.69 51.07 L254.82 54.36 L254.96 51.95 L255.09 51.36 L255.23 48.36 L255.37 54.11 L255.50 52.38 L255.64 42.27 L255.77 45.02 L255.91 45.02 L256.05 45.02 L256.18 36.82 L256.32 52.41 L256.46 58.33 L256.59 62.43 L256.73 60.45 L256.87 57.73 L257.00 57.70 L257.13 73.90 L257.27 78.64 L257.41 66.00 L257.54 69.86 L257.68 63.16 L257.82 65.91 L257.95 55.74 L258.09 55.88 L258.23 48.61 L258.36 51.36 L258.50 47.07 L258.63 52.76 L258.77 53.57 L258.91 42.27 L259.05 57.33 L259.18 46.09 L259.31 45.40 L259.45 60.45 L259.59 57.46 L259.73 58.18 L259.86 52.48 L260.00 47.73 L260.14 42.39 L260.27 50.48 L260.41 50.48 L260.55 36.82 L260.69 51.73 L260.82 48.96 L260.95 56.27 L261.09 60.45 L261.23 58.26 L261.37 47.66 L261.50 37.41 L261.64 35.00 L261.77 37.75 L261.91 37.75 L262.05 37.75 L262.18 31.36 L262.32 49.21 L262.46 43.59 L262.59 48.86 L262.73 51.36 L262.87 52.13 L263.00 59.23 L263.13 67.13 L263.27 69.55 L263.41 66.80 L263.54 75.81 L263.68 74.74 L263.82 84.09 L263.95 71.90 L264.09 68.96 L264.23 73.66 L264.36 69.55 L264.50 59.81 L264.63 57.92 L264.77 50.41 L264.91 51.36 L265.05 54.11 L265.18 54.11 L265.31 54.11 L265.45 42.27 L265.59 45.02 L265.73 45.02 L265.86 45.02 L266.00 36.82 L266.14 45.34 L266.27 54.11 L266.41 54.11 L266.55 51.36 L266.69 54.83 L266.82 59.05 L266.95 60.92 L267.09 69.55 L267.23 72.77 L267.37 75.02 L267.50 66.80 L267.64 78.64 L267.77 74.45 L267.91 73.10 L268.05 66.80 L268.18 69.55 L268.32 66.80 L268.46 66.80 L268.59 67.18 L268.73 84.09 L268.87 81.34 L269.00 81.34 L269.13 81.34 L269.27 89.55 L269.41 74.77 L269.54 66.80 L269.68 73.46 L269.82 69.55 L269.95 58.33 L270.09 58.88 L270.23 55.72 L270.36 51.36 L270.50 56.86 L270.63 63.20 L270.77 63.20 L270.91 60.45 L271.05 63.20 L271.18 59.87 L271.31 47.32 L271.45 42.27 L271.59 45.02 L271.73 45.02 L271.86 45.02 L272.00 40.45 L272.14 54.11 L272.27 50.15 L272.41 51.69 L272.55 51.36 L272.69 53.00 L272.82 49.70 L272.95 66.56 L273.09 69.55 L273.23 74.49 L273.37 69.95 L273.50 66.80 L273.64 84.09 L273.77 63.16 L273.91 69.20 L274.05 72.67 L274.18 65.91 L274.32 63.38 L274.46 65.03 L274.59 66.24 L274.73 51.36 L274.87 63.20 L275.00 56.00 L275.13 63.20 L275.27 60.45 L275.41 66.83 L275.54 57.70 L275.68 62.61 L275.82 69.55 L275.95 66.80 L276.09 68.77 L276.23 73.69 L276.36 78.64 L276.50 66.80 L276.63 66.80 L276.77 75.94 L276.91 69.55 L277.05 68.49 L277.18 72.30 L277.31 57.70 L277.45 60.45 L277.59 63.20 L277.73 63.20 L277.86 63.20 L278.00 44.09 L278.14 54.11 L278.27 54.11 L278.41 54.11 L278.55 51.36 L278.69 67.73 L278.82 70.22 L278.95 67.26 L279.09 69.55 L279.23 66.80 L279.37 75.51 L279.50 70.21 L279.64 80.45 L279.77 75.21 L279.91 71.83 L280.05 77.95 L280.18 69.55 L280.32 73.62 L280.46 66.80 L280.59 71.55 L280.73 78.64 L280.87 80.93 L281.00 75.89 L281.13 76.34 L281.27 89.55 L281.41 79.68 L281.54 77.54 L281.68 70.98 L281.82 69.55 L281.95 57.90 L282.09 57.70 L282.23 64.24 L282.36 60.45 L282.50 63.02 L282.63 63.20 L282.77 53.88 L282.91 51.36 L283.05 54.11 L283.18 54.11 L283.31 45.05 L283.45 42.27 L283.59 45.02 L283.73 45.02 L283.86 45.02 L284.00 31.36 L284.14 49.03 L284.27 54.11 L284.41 50.42 L284.55 51.36 L284.69 61.13 L284.82 57.34 L284.95 60.12 L285.09 69.55 L285.23 65.94 L285.37 58.70 L285.50 62.29 L285.64 60.45 L285.77 69.32 L285.91 62.49 L286.05 63.36 L286.18 75.00 L286.32 72.25 L286.46 72.25 L286.59 75.17 L286.73 84.09 L286.87 66.80 L287.00 70.99 L287.13 66.80 L287.27 69.55 L287.41 59.86 L287.54 72.30 L287.68 57.70 L287.82 60.45 L287.95 63.20 L288.09 63.09 L288.23 63.20 L288.36 51.36 L288.50 50.97 L288.63 54.11 L288.77 54.11 L288.91 42.27 L289.18 45.02 L289.46 45.02 L289.73 45.02 L290.00 42.27 L290.14 56.04 L290.27 55.02 L290.41 56.15 L290.55 60.45 L290.69 65.70 L290.82 67.34 L290.95 68.77 L291.09 78.64 L291.23 77.53 L291.37 66.80 L291.50 68.39 L291.64 69.55 L291.77 71.12 L291.91 57.70 L292.05 66.53 L292.18 60.45 L292.32 71.93 L292.46 57.70 L292.59 59.45 L292.73 75.00 L292.87 63.16 L293.00 63.16 L293.13 67.68 L293.27 65.91 L293.41 53.50 L293.54 64.63 L293.68 68.06 L293.82 51.36 L293.95 51.03 L294.09 59.31 L294.23 51.63 L294.36 60.45 L294.50 63.20 L294.63 55.56 L294.77 56.56 L294.91 47.73 L295.05 57.38 L295.18 61.67 L295.31 58.35 L295.45 60.45 L295.59 62.65 L295.73 60.70 L295.86 65.47 L296.00 69.55 L296.14 66.80 L296.27 71.68 L296.41 66.80 L296.55 91.36 L296.69 70.97 L296.82 81.48 L296.95 68.66 L297.09 69.55 L297.23 57.70 L297.37 64.21 L297.50 57.70 L297.64 60.45 L297.77 50.34 L297.91 54.23 L298.05 61.20 L298.18 51.36 L298.32 54.11 L298.46 54.11 L298.59 50.43 L298.73 47.73 L298.87 52.13 L299.00 63.20 L299.13 62.58 L299.27 60.45 L299.41 59.61 L299.54 57.70 L299.68 59.58 L299.82 69.55 L299.95 72.30 L300.09 56.97 L300.23 60.59 L300.36 51.36 L300.50 54.11 L300.63 54.11 L300.77 53.89 L300.91 44.09 L301.05 50.42 L301.18 55.37 L301.31 72.30 L301.45 69.55 L301.59 66.80 L301.73 76.26 L301.86 66.80 L302.00 84.09 L302.14 81.34 L302.27 81.34 L302.41 85.96 L302.55 96.82 L302.69 75.89 L302.82 80.83 L302.95 77.40 L303.09 78.64 L303.23 66.50 L303.37 70.91 L303.50 61.07 L303.64 60.45 L303.77 60.01 L303.91 65.42 L304.05 57.70 L304.18 69.55 L304.32 68.05 L304.46 66.80 L304.59 66.80 L304.73 75.00 L304.87 66.86 L305.00 71.57 L305.13 63.33 L305.27 60.45 L305.41 63.20 L305.54 54.46 L305.68 52.48 L305.82 51.36 L305.95 68.15 L306.09 64.08 L306.23 69.36 L306.36 69.55 L306.50 58.50 L306.63 65.19 L306.77 59.92 L306.91 51.36 L307.05 54.11 L307.18 53.67 L307.31 54.11 L307.45 44.09 L307.59 49.14 L307.73 49.45 L307.86 48.67 L308.00 60.45 L308.14 65.21 L308.27 57.70 L308.41 57.70 L308.55 69.55 L308.69 54.52 L308.82 54.96 L308.95 48.61 L309.09 51.36 L309.23 53.44 L309.37 53.40 L309.50 55.64 L309.64 65.91 L309.77 53.11 L309.91 56.77 L310.05 52.22 L310.18 51.36 L310.32 52.15 L310.46 51.75 L310.59 51.12 L310.73 42.27 L310.87 35.60 L311.00 43.56 L311.13 40.99 L311.27 33.18 L311.41 51.60 L311.54 40.94 L311.68 47.96 L311.82 51.36 L311.95 54.99 L312.09 57.03 L312.23 66.61 L312.36 69.55 L312.50 59.68 L312.63 66.28 L312.77 57.70 L312.91 60.45 L313.05 46.36 L313.18 61.21 L313.31 55.09 L313.45 45.91 L313.59 54.81 L313.73 54.63 L313.86 58.43 L314.00 60.45 L314.14 57.70 L314.27 65.60 L314.41 58.59 L314.55 69.55 L314.69 70.27 L314.82 66.80 L314.95 66.80 L315.09 78.64 L315.23 59.42 L315.37 70.43 L315.50 61.20 L315.64 60.45 L315.77 55.95 L315.91 58.33 L316.05 53.52 L316.18 51.36 L316.32 49.49 L316.46 51.23 L316.59 49.64 L316.73 36.82 L316.87 54.11 L317.00 51.37 L317.13 54.11 L317.27 51.36 L317.41 67.40 L317.54 69.20 L317.68 67.87 L317.82 69.55 L317.95 63.99 L318.09 62.89 L318.23 60.21 L318.36 60.45 L318.50 54.91 L318.63 57.43 L318.77 53.13 L318.91 51.36 L319.05 54.11 L319.18 54.11 L319.31 52.40 L319.45 47.73 L319.59 46.40 L319.73 58.24 L319.86 57.83 L320.00 60.45 L320.14 57.70 L320.27 58.54 L320.41 57.70 L320.55 69.55 L320.69 69.62 L320.82 64.99 L320.95 72.30 L321.09 60.45 L321.23 64.76 L321.37 65.93 L321.50 76.51 L321.64 75.00 L321.77 72.36 L321.91 73.68 L322.05 72.25 L322.18 84.09 L322.32 81.34 L322.46 85.80 L322.59 83.96 L322.73 91.36 L322.87 87.31 L323.00 73.22 L323.13 72.58 L323.27 69.55 L323.41 65.00 L323.54 72.30 L323.68 59.91 L323.82 60.45 L323.95 63.20 L324.09 63.20 L324.23 63.20 L324.36 56.82 L324.50 62.68 L324.63 68.66 L324.77 66.20 L324.91 65.91 L325.05 67.45 L325.18 64.79 L325.31 72.30 L325.45 69.55 L325.59 81.39 L325.73 71.52 L325.86 71.75 L326.00 78.64 L326.14 75.89 L326.27 86.84 L326.41 84.28 L326.55 84.09 L326.69 81.34 L326.82 81.34 L326.95 81.34 L327.09 91.36 L327.23 91.02 L327.37 96.35 L327.50 88.61 L327.64 104.09 L327.77 81.11 L327.91 77.79 L328.05 66.80 L328.18 69.55 L328.32 72.30 L328.46 63.75 L328.59 72.30 L328.73 60.45 L328.87 59.77 L329.00 63.99 L329.13 74.38 L329.27 75.00 L329.41 72.25 L329.54 80.07 L329.68 76.72 L329.82 82.27 L329.95 68.77 L330.09 77.06 L330.23 76.68 L330.36 69.55 L330.50 57.85 L330.63 72.30 L330.77 68.83 L330.91 60.45 L331.05 63.20 L331.18 52.25 L331.31 57.21 L331.45 55.00 L331.59 58.95 L331.73 68.62 L331.86 56.48 L332.00 69.55 L332.14 59.67 L332.27 57.70 L332.41 60.93 L332.55 60.45 L332.69 61.52 L332.82 50.43 L332.95 54.54 L333.09 53.18 L333.23 60.80 L333.37 68.76 L333.50 65.73 L333.64 69.55 L333.77 60.03 L333.91 54.07 L334.05 54.07 L334.18 56.82 L334.32 52.13 L334.46 55.46 L334.59 53.24 L334.73 47.73 L334.87 54.11 L335.00 54.11 L335.13 48.58 L335.27 51.36 L335.41 54.11 L335.54 54.11 L335.68 53.49 L335.82 44.09 L335.95 50.46 L336.09 46.18 L336.23 52.89 L336.36 60.45 L336.50 63.20 L336.63 53.28 L336.77 48.84 L336.91 47.73 L337.05 56.97 L337.18 58.82 L337.31 62.41 L337.45 60.45 L337.59 64.74 L337.73 70.02 L337.86 58.79 L338.00 69.55 L338.14 71.26 L338.27 66.80 L338.41 73.33 L338.55 84.09 L338.69 75.89 L338.82 75.89 L338.95 75.89 L339.09 78.64 L339.23 67.02 L339.37 72.10 L339.50 69.66 L339.64 69.55 L339.77 63.28 L339.91 58.28 L340.05 57.70 L340.18 60.45 L340.32 55.51 L340.46 56.16 L340.59 56.00 L340.73 51.36 L340.87 54.11 L341.00 54.11 L341.13 54.11 L341.27 40.45 L341.41 43.20 L341.54 43.20 L341.68 43.20 L341.82 38.64 L341.95 50.48 L342.09 45.70 L342.23 50.48 L342.36 47.73 L342.50 49.09 L342.63 50.48 L342.77 39.52 L342.91 42.27 L343.05 51.36 L343.18 55.20 L343.31 56.99 L343.45 60.45 L343.59 62.17 L343.73 61.54 L343.86 62.03 L344.00 69.55 L344.14 57.70 L344.27 57.70 L344.41 57.70 L344.55 60.45 L344.69 64.36 L344.82 64.87 L344.95 64.38 L345.09 78.64 L345.23 66.80 L345.37 66.80 L345.50 74.86 L345.64 69.55 L345.77 71.24 L345.91 59.12 L346.05 64.25 L346.18 51.36 L346.32 46.02 L346.46 43.20 L346.59 50.28 L346.73 44.09 L346.87 50.17 L347.00 53.95 L347.13 60.11 L347.27 60.45 L347.41 72.30 L347.54 60.14 L347.68 65.19 L347.82 69.55 L347.95 65.30 L348.09 61.31 L348.23 64.35 L348.36 51.36 L348.50 54.11 L348.63 48.68 L348.77 54.11 L348.91 47.73 L349.05 53.73 L349.18 58.74 L349.31 49.95 L349.45 60.45 L349.59 57.70 L349.73 57.70 L349.86 65.77 L350.00 69.55 L350.14 66.93 L350.27 67.64 L350.41 66.80 L350.55 80.45 L350.69 67.56 L350.82 66.80 L350.95 66.80 L351.09 69.55 L351.23 60.47 L351.37 68.21 L351.50 66.23 L351.64 60.45 L351.77 62.34 L351.91 63.20 L352.05 56.87 L352.18 51.36 L352.32 54.11 L352.46 54.11 L352.59 54.11 L352.73 44.09 L352.87 54.11 L353.00 54.11 L353.13 54.11 L353.27 51.36 L353.41 59.39 L353.54 72.30 L353.68 70.31 L353.82 69.55 L353.95 74.46 L354.09 86.98 L354.23 84.36 L354.36 87.73 L354.50 84.98 L354.63 85.99 L354.77 88.37 L354.91 100.45 L354.98 95.89 L355.05 95.89 L355.11 95.89 L355.18 98.64 L355.32 74.33 L355.46 72.38 L355.59 75.01 L355.73 69.55 L355.87 70.91 L356.00 60.92 L356.13 62.83 L356.27 56.82 L356.41 62.75 L356.54 66.87 L356.68 69.98 L356.82 69.55 L356.95 70.14 L357.09 66.80 L357.23 82.18 L357.36 84.09 L357.50 83.53 L357.63 72.36 L357.77 76.76 L357.91 69.55 L358.05 69.35 L358.18 69.40 L358.31 67.28 L358.45 60.45 L358.59 57.01 L358.73 63.20 L358.86 63.20 L359.00 51.36 L359.14 50.61 L359.27 54.11 L359.41 54.11 L359.55 35.00 L359.69 63.20 L359.82 63.20 L359.95 63.20 L360.09 60.45 L360.23 62.95 L360.37 62.64 L360.50 62.61 L360.64 69.55 L360.77 67.16 L360.91 64.75 L361.05 67.03 L361.18 56.82 L361.32 54.07 L361.46 68.66 L361.59 68.66 L361.73 65.91 L361.87 67.23 L362.00 72.01 L362.13 71.81 L362.27 73.18 L362.41 73.53 L362.54 72.24 L362.68 74.08 L362.82 84.09 L362.95 81.34 L363.09 81.34 L363.23 81.34 L363.36 89.55 L363.50 79.72 L363.63 70.75 L363.77 73.17 L363.91 69.55 L364.05 71.79 L364.18 75.98 L364.31 67.95 L364.45 78.64 L364.59 76.03 L364.73 78.00 L364.86 74.74 L365.00 69.55 L365.14 69.04 L365.27 69.05 L365.41 71.13 L365.55 75.00 L365.69 75.81 L365.82 77.75 L365.95 68.66 L366.09 65.91 L366.23 64.54 L366.37 70.60 L366.50 70.11 L366.64 69.55 L366.77 62.05 L366.91 61.85 L367.05 64.21 L367.18 60.45 L367.32 67.28 L367.46 57.70 L367.59 59.35 L367.73 65.91 L367.87 66.89 L368.00 56.27 L368.13 62.47 L368.27 56.82 L368.41 63.39 L368.54 62.43 L368.68 59.04 L368.82 69.55 L368.95 63.47 L369.09 60.83 L369.23 63.37 L369.36 60.45 L369.50 54.27 L369.63 63.20 L369.77 54.07 L369.91 56.82 L370.05 55.94 L370.18 56.27 L370.31 59.57 L370.45 51.36 L370.59 54.90 L370.73 63.53 L370.86 59.68 L371.00 69.55 L371.14 68.83 L371.27 72.30 L371.41 60.29 L371.55 60.45 L371.69 61.66 L371.82 51.86 L371.95 60.04 L372.09 42.27 L372.23 45.02 L372.37 45.02 L372.50 43.51 L372.64 35.00 L372.77 53.10 L372.91 54.11 L373.05 54.11 L373.18 51.36 L373.32 65.94 L373.46 55.95 L373.59 66.82 L373.73 87.73 L373.87 84.98 L374.00 84.98 L374.13 85.82 L374.27 100.45 L374.41 86.87 L374.54 76.85 L374.68 74.96 L374.82 69.55 L374.95 61.16 L375.09 57.70 L375.23 60.15 L375.36 60.45 L375.50 59.80 L375.63 61.77 L375.77 67.00 L375.91 69.55 L376.05 63.56 L376.18 64.27 L376.31 64.41 L376.45 60.45 L376.59 60.96 L376.73 63.20 L376.86 61.15 L377.00 51.36 L377.14 54.11 L377.27 54.00 L377.41 50.56 L377.55 42.27 L377.69 45.02 L377.82 45.02 L377.95 43.52 L378.09 36.82 L378.23 46.31 L378.37 50.47 L378.50 50.59 L378.64 51.36 L378.77 61.36 L378.91 50.15 L379.05 60.38 L379.18 60.45 L379.32 61.35 L379.46 57.70 L379.59 65.37 L379.73 78.64 L379.87 66.80 L380.00 67.58 L380.13 66.80 L380.27 69.55 L380.41 63.43 L380.54 57.70 L380.68 57.70 L380.82 60.45 L380.95 63.02 L381.09 63.20 L381.23 57.73 L381.36 56.82 L381.50 54.28 L381.63 59.57 L381.77 48.61 L381.91 51.36 L382.05 51.48 L382.18 54.11 L382.31 54.11 L382.45 47.73 L382.59 50.44 L382.73 46.65 L382.86 57.75 L383.00 55.00 L383.14 60.61 L383.27 55.52 L383.41 61.44 L383.55 60.45 L383.69 67.81 L383.82 57.70 L383.95 71.23 L384.09 69.55 L384.23 69.98 L384.37 63.16 L384.50 69.24 L384.64 65.91 L384.77 57.70 L384.91 68.66 L385.05 64.93 L385.18 60.45 L385.32 72.30 L385.46 61.40 L385.59 65.92 L385.73 69.55 L385.87 74.65 L386.00 66.80 L386.13 67.28 L386.27 78.64 L386.41 70.43 L386.54 71.29 L386.68 70.43 L386.82 73.18 L386.95 73.11 L387.09 72.98 L387.23 69.93 L387.36 69.55 L387.50 72.30 L387.63 66.59 L387.77 72.30 L387.91 65.91" fill="none" stroke="#4063ab" stroke-width="0.95" stroke-linejoin="round"/>
<line x1="23.09" x2="387.91" y1="65.1" y2="66.3" stroke="#267d4e" stroke-width="1.2" stroke-dasharray="2.6 0.6"/>
<rect x="23.0" y="149.4" width="365.0" height="110.0" fill="#dadada"/>
<line x1="23.0" x2="388.0" y1="245.65" y2="245.65" stroke="#f6f6f6" stroke-width="0.6"/>
<line x1="23.0" x2="388.0" y1="231.90" y2="231.90" stroke="#f6f6f6" stroke-width="0.6"/>
<line x1="23.0" x2="388.0" y1="218.15" y2="218.15" stroke="#f6f6f6" stroke-width="0.6"/>
<line x1="23.0" x2="388.0" y1="204.40" y2="204.40" stroke="#f6f6f6" stroke-width="0.6"/>
<line x1="23.0" x2="388.0" y1="190.65" y2="190.65" stroke="#f6f6f6" stroke-width="0.6"/>
<line x1="23.0" x2="388.0" y1="176.90" y2="176.90" stroke="#f6f6f6" stroke-width="0.6"/>
<line x1="23.0" x2="388.0" y1="163.15" y2="163.15" stroke="#f6f6f6" stroke-width="0.6"/>
<line x1="77.2" x2="77.2" y1="149.4" y2="259.4" stroke="#fff" stroke-width="0.85"/>
<line x1="153.5" x2="153.5" y1="149.4" y2="259.4" stroke="#fff" stroke-width="0.85"/>
<line x1="230.0" x2="230.0" y1="149.4" y2="259.4" stroke="#fff" stroke-width="0.85"/>
<line x1="306.0" x2="306.0" y1="149.4" y2="259.4" stroke="#fff" stroke-width="0.85"/>
<line x1="382.6" x2="382.6" y1="149.4" y2="259.4" stroke="#fff" stroke-width="0.85"/>
<line x1="23.0" x2="388.0" y1="218.45" y2="218.45" stroke="#efbd5e" stroke-width="1.0"/>
<line x1="23.0" x2="388.0" y1="232.00" y2="232.00" stroke="#a84c55" stroke-width="0.75"/>
<clipPath id="cp1"><rect x="23.0" y="149.4" width="365.0" height="110.0"/></clipPath>
<path clip-path="url(#cp1)" d="M23.44 194.91 L23.62 196.64 L23.80 203.64 L23.98 192.52 L24.16 203.64 L24.31 203.71 L24.45 202.56 L24.60 201.65 L24.75 208.00 L24.86 205.25 L24.96 205.25 L25.07 205.25 L25.18 215.27 L25.29 200.89 L25.40 203.04 L25.51 201.80 L25.62 203.64 L25.77 199.59 L25.91 196.26 L26.05 199.53 L26.20 196.36 L26.34 199.11 L26.49 196.32 L26.64 194.31 L26.78 189.09 L26.93 197.66 L27.07 197.66 L27.21 197.66 L27.36 194.91 L27.51 205.72 L27.66 200.08 L27.80 202.07 L27.95 203.64 L28.09 209.28 L28.24 202.44 L28.39 205.13 L28.53 209.45 L28.68 206.87 L28.82 206.31 L28.96 202.82 L29.11 205.09 L29.25 206.71 L29.40 200.90 L29.55 204.45 L29.69 200.73 L29.84 205.52 L29.98 204.19 L30.12 205.08 L30.27 205.09 L30.41 202.34 L30.56 202.34 L30.71 203.19 L30.85 215.27 L31.00 208.25 L31.15 211.45 L31.29 200.89 L31.44 203.64 L31.59 202.29 L31.73 195.93 L31.88 195.39 L32.02 194.91 L32.17 195.98 L32.31 197.66 L32.45 197.47 L32.60 192.00 L32.75 194.75 L32.89 190.97 L33.03 194.75 L33.18 189.09 L33.33 191.84 L33.47 191.84 L33.61 191.84 L33.76 184.73 L33.91 192.20 L34.05 191.08 L34.20 195.46 L34.35 194.91 L34.50 196.39 L34.64 206.39 L34.78 199.28 L34.93 203.64 L35.08 209.85 L35.22 203.83 L35.36 204.87 L35.51 208.00 L35.66 206.27 L35.80 200.89 L35.95 205.96 L36.09 203.64 L36.23 203.47 L36.38 200.89 L36.53 206.67 L36.67 212.36 L36.81 209.61 L36.96 209.61 L37.11 214.23 L37.25 219.64 L37.40 206.70 L37.55 207.13 L37.69 206.93 L37.84 209.45 L37.98 195.58 L38.13 202.93 L38.28 189.25 L38.42 192.00 L38.56 186.26 L38.71 193.98 L38.86 186.12 L39.00 187.64 L39.14 188.93 L39.29 181.26 L39.44 188.32 L39.58 181.82 L39.69 181.22 L39.80 184.57 L39.91 177.59 L40.02 174.55 L40.13 177.30 L40.23 177.30 L40.34 177.30 L40.45 168.73 L40.56 177.30 L40.67 177.30 L40.78 177.30 L40.89 174.55 L41.00 174.41 L41.11 186.02 L41.22 183.98 L41.33 183.27 L41.47 189.25 L41.62 194.52 L41.77 184.85 L41.91 193.45 L42.05 193.33 L42.20 194.94 L42.34 193.82 L42.49 200.73 L42.64 202.84 L42.78 201.99 L42.92 200.18 L43.07 210.91 L43.22 208.16 L43.36 212.70 L43.50 208.16 L43.65 224.00 L43.76 221.25 L43.87 221.25 L43.98 221.25 L44.09 231.27 L44.20 221.25 L44.31 221.25 L44.42 221.25 L44.53 224.00 L44.67 216.99 L44.82 216.00 L44.97 215.96 L45.11 215.27 L45.25 207.51 L45.40 206.79 L45.55 209.81 L45.69 203.64 L45.84 202.21 L45.98 206.39 L46.12 194.75 L46.27 194.91 L46.42 197.66 L46.56 197.66 L46.70 191.27 L46.85 192.00 L47.00 197.66 L47.14 197.66 L47.29 197.66 L47.44 194.91 L47.59 196.11 L47.73 197.66 L47.88 197.66 L48.02 190.55 L48.17 196.07 L48.31 187.80 L48.45 197.75 L48.60 197.82 L48.75 197.19 L48.89 202.76 L49.03 202.30 L49.18 203.64 L49.33 200.89 L49.47 202.12 L49.61 211.60 L49.76 210.91 L49.91 208.16 L50.05 219.17 L50.20 209.28 L50.35 222.55 L50.50 219.80 L50.64 219.80 L50.78 219.80 L50.93 229.82 L51.08 218.34 L51.22 218.59 L51.36 218.34 L51.51 221.09 L51.66 208.47 L51.80 216.50 L51.95 208.96 L52.09 210.91 L52.30 202.17 L52.50 208.42 L52.70 208.26 L52.91 195.00 L53.09 197.75 L53.27 192.78 L53.46 197.75 L53.64 187.73 L53.82 194.11 L54.00 194.11 L54.18 194.11 L54.36 191.36 L54.54 199.52 L54.73 199.62 L54.91 202.77 L55.09 200.45 L55.27 209.56 L55.45 200.95 L55.64 212.28 L55.82 209.55 L56.00 206.80 L56.19 214.07 L56.37 209.20 L56.55 224.09 L56.73 221.34 L56.91 221.34 L57.09 221.34 L57.27 227.73 L57.45 213.25 L57.64 212.46 L57.82 211.76 L58.00 209.55 L58.18 200.38 L58.36 197.15 L58.55 189.96 L58.73 185.91 L58.91 194.11 L59.09 194.11 L59.27 194.11 L59.45 191.36 L59.63 194.86 L59.81 205.02 L60.00 201.94 L60.18 202.27 L60.36 213.65 L60.55 212.36 L60.73 209.95 L60.91 213.18 L61.09 213.44 L61.27 206.80 L61.46 207.75 L61.64 209.55 L61.82 204.77 L62.00 203.16 L62.18 206.55 L62.36 205.91 L62.54 206.21 L62.73 214.52 L62.91 203.16 L63.09 215.00 L63.27 212.25 L63.45 212.25 L63.64 212.25 L63.82 220.45 L64.00 215.86 L64.19 214.42 L64.37 211.35 L64.55 209.55 L64.73 207.29 L64.91 210.78 L65.09 209.25 L65.27 202.27 L65.45 197.86 L65.63 204.58 L65.82 199.08 L66.00 198.64 L66.18 200.32 L66.37 206.84 L66.55 206.84 L66.73 204.09 L66.91 210.66 L67.09 207.99 L67.27 212.86 L67.45 218.64 L67.59 215.89 L67.72 220.34 L67.86 223.09 L68.00 229.55 L68.14 226.95 L68.28 222.91 L68.41 212.25 L68.55 215.00 L68.73 209.43 L68.91 205.88 L69.09 210.17 L69.27 204.09 L69.45 212.30 L69.63 211.78 L69.82 201.34 L70.00 209.55 L70.18 206.80 L70.37 207.14 L70.55 216.71 L70.73 220.45 L70.91 217.70 L71.09 218.63 L71.27 226.04 L71.45 225.91 L71.63 212.14 L71.81 210.00 L72.00 220.72 L72.18 209.55 L72.36 208.76 L72.55 202.31 L72.73 195.89 L72.91 198.64 L73.09 194.92 L73.28 194.07 L73.46 201.39 L73.64 196.82 L73.82 201.74 L74.00 206.84 L74.18 202.73 L74.36 204.09 L74.54 202.31 L74.72 203.46 L74.91 216.81 L75.09 215.00 L75.27 198.98 L75.45 205.51 L75.64 202.57 L75.82 196.82 L76.00 199.57 L76.19 195.82 L76.37 199.02 L76.55 189.55 L76.73 199.57 L76.91 196.15 L77.09 195.65 L77.27 196.82 L77.45 197.13 L77.63 193.14 L77.82 196.12 L78.00 193.18 L78.18 195.78 L78.37 198.79 L78.55 201.39 L78.73 198.64 L78.91 205.24 L79.09 198.19 L79.27 203.86 L79.45 205.91 L79.63 203.16 L79.81 205.03 L80.00 203.16 L80.18 209.55 L80.36 201.15 L80.55 197.70 L80.73 197.70 L80.91 200.45 L81.09 198.83 L81.28 199.63 L81.46 195.61 L81.64 191.36 L81.82 195.54 L82.00 196.59 L82.18 195.16 L82.36 205.91 L82.54 188.81 L82.72 196.96 L82.91 191.90 L83.09 182.27 L83.27 185.02 L83.45 183.14 L83.64 185.02 L83.82 176.82 L84.00 177.29 L84.19 179.57 L84.37 179.57 L84.55 171.36 L84.73 174.11 L84.91 174.11 L85.09 174.11 L85.27 167.73 L85.45 181.71 L85.63 187.66 L85.82 188.96 L86.00 191.36 L86.18 192.44 L86.37 202.99 L86.55 196.82 L86.73 209.55 L86.91 206.80 L87.09 209.76 L87.27 206.80 L87.45 224.09 L87.63 208.74 L87.81 210.74 L88.00 208.61 L88.18 211.36 L88.36 200.22 L88.55 203.14 L88.73 200.33 L88.91 193.18 L89.27 199.57 L89.63 197.19 L90.00 199.57 L90.36 196.82 L90.54 202.75 L90.72 206.29 L90.91 208.01 L91.09 209.55 L91.27 214.08 L91.45 217.91 L91.64 221.39 L91.82 218.64 L92.00 215.89 L92.19 224.08 L92.37 223.70 L92.55 227.73 L92.73 224.98 L92.91 224.98 L93.09 225.73 L93.27 235.00 L93.45 232.25 L93.63 232.25 L93.82 232.25 L94.00 238.64 L94.18 222.98 L94.37 223.21 L94.55 221.46 L94.73 224.09 L94.91 210.31 L95.09 212.80 L95.27 211.92 L95.45 200.45 L95.63 196.72 L95.81 203.20 L96.00 192.63 L96.18 191.36 L96.36 194.11 L96.55 194.11 L96.73 194.11 L96.91 184.09 L97.09 186.84 L97.28 186.84 L97.46 186.84 L97.64 176.82 L97.78 179.57 L97.91 179.57 L98.05 179.57 L98.18 173.18 L98.32 184.84 L98.46 185.02 L98.59 185.02 L98.73 182.27 L98.87 189.47 L99.00 190.51 L99.13 194.11 L99.27 191.36 L99.45 202.46 L99.63 196.24 L99.82 190.96 L100.00 200.45 L100.18 203.95 L100.37 205.29 L100.55 208.82 L100.73 218.64 L100.91 215.89 L101.09 215.89 L101.27 220.51 L101.45 231.36 L101.63 221.79 L101.81 216.90 L102.00 212.25 L102.18 215.00 L102.36 209.62 L102.55 213.35 L102.73 203.63 L102.91 202.27 L103.09 205.02 L103.28 203.45 L103.46 200.08 L103.64 198.64 L103.82 211.24 L104.00 210.65 L104.18 213.21 L104.36 216.82 L104.50 221.64 L104.63 214.07 L104.77 222.37 L104.91 236.82 L105.05 234.07 L105.18 234.07 L105.31 234.07 L105.45 244.09 L105.59 227.78 L105.72 224.98 L105.86 226.59 L106.00 227.73 L106.14 219.61 L106.28 213.75 L106.41 217.83 L106.55 202.27 L106.73 203.80 L106.91 200.52 L107.09 199.54 L107.27 191.36 L107.45 196.73 L107.63 199.57 L107.82 193.84 L108.00 196.82 L108.18 199.57 L108.37 199.57 L108.55 199.57 L108.73 187.73 L108.91 190.48 L109.09 190.48 L109.27 190.48 L109.45 184.09 L109.63 195.14 L109.81 188.82 L110.00 195.48 L110.18 196.82 L110.36 196.85 L110.55 208.65 L110.73 205.97 L110.91 209.55 L111.09 206.80 L111.28 209.60 L111.46 210.96 L111.64 222.27 L111.82 207.41 L112.00 206.96 L112.18 206.80 L112.36 209.55 L112.54 200.57 L112.72 199.52 L112.91 200.75 L113.09 202.27 L113.27 206.84 L113.45 206.84 L113.64 200.43 L113.82 204.09 L114.00 198.51 L114.19 199.97 L114.37 203.98 L114.55 196.82 L114.73 199.57 L114.91 194.44 L115.09 197.50 L115.27 187.73 L115.45 190.48 L115.63 190.48 L115.82 190.41 L116.00 182.27 L116.18 185.25 L116.37 193.16 L116.55 194.11 L116.73 191.36 L116.91 191.83 L117.09 198.30 L117.27 204.71 L117.45 207.73 L117.63 204.98 L117.81 204.98 L118.00 215.06 L118.18 215.00 L118.36 209.40 L118.55 208.46 L118.73 197.91 L118.91 200.45 L119.09 203.20 L119.28 190.75 L119.46 194.65 L119.64 191.36 L119.82 194.11 L120.00 194.11 L120.18 190.95 L120.36 189.55 L120.54 192.47 L120.72 196.95 L120.91 188.25 L121.09 195.00 L121.27 202.21 L121.45 203.90 L121.64 201.50 L121.82 211.36 L122.00 209.47 L122.19 212.34 L122.37 212.10 L122.55 225.91 L122.73 212.71 L122.91 215.03 L123.09 206.80 L123.27 209.55 L123.45 203.86 L123.63 199.03 L123.82 204.07 L124.00 195.00 L124.18 196.30 L124.37 197.75 L124.55 196.42 L124.73 185.91 L124.91 188.66 L125.09 188.66 L125.27 188.66 L125.45 178.64 L125.63 192.30 L125.81 192.30 L126.00 192.30 L126.18 189.55 L126.36 198.86 L126.55 199.57 L126.73 199.57 L126.91 196.82 L127.27 201.62 L127.64 208.45 L128.00 209.66 L128.36 220.45 L128.54 217.70 L128.73 221.06 L128.91 217.70 L129.09 231.36 L129.23 228.61 L129.37 228.61 L129.50 228.61 L129.64 240.45 L129.82 221.34 L130.00 221.34 L130.18 221.34 L130.36 224.09 L130.54 221.98 L130.73 212.89 L130.91 210.84 L131.09 202.27 L131.27 201.78 L131.45 205.02 L131.64 205.02 L131.82 191.36 L132.00 199.57 L132.19 193.21 L132.37 199.57 L132.55 196.82 L132.73 210.69 L132.91 208.97 L133.09 200.40 L133.27 209.55 L133.45 207.66 L133.63 213.16 L133.82 214.00 L134.00 222.27 L134.18 212.25 L134.37 212.25 L134.55 213.91 L134.73 215.00 L134.91 199.81 L135.09 209.87 L135.27 201.65 L135.45 198.64 L135.63 199.11 L135.81 190.15 L136.00 191.56 L136.18 184.09 L136.36 186.84 L136.55 184.71 L136.73 186.84 L136.91 175.91 L137.09 185.87 L137.27 188.60 L137.46 194.11 L137.64 191.36 L137.82 202.28 L138.00 204.74 L138.18 201.28 L138.36 202.27 L138.54 203.50 L138.73 202.92 L138.91 200.99 L139.09 198.64 L139.27 195.89 L139.45 209.62 L139.64 207.88 L139.82 209.55 L140.00 209.94 L140.19 208.10 L140.37 213.53 L140.55 222.27 L140.73 213.51 L140.91 212.32 L141.09 216.57 L141.27 215.00 L141.45 212.25 L141.63 215.45 L141.82 212.25 L142.00 224.09 L142.18 221.34 L142.37 227.20 L142.55 221.34 L142.73 235.00 L142.87 224.98 L143.00 224.98 L143.13 225.78 L143.27 227.73 L143.41 212.69 L143.55 205.08 L143.68 210.11 L143.82 191.36 L144.00 199.57 L144.19 199.57 L144.37 199.57 L144.55 196.82 L144.73 204.02 L144.91 207.85 L145.09 211.71 L145.27 209.55 L145.45 214.90 L145.63 211.53 L145.82 217.75 L146.00 215.00 L146.18 223.20 L146.37 214.09 L146.55 223.20 L146.73 220.45 L146.91 217.70 L147.09 223.16 L147.27 217.70 L147.45 224.09 L147.63 216.30 L147.81 214.07 L148.00 214.07 L148.18 216.82 L148.36 206.80 L148.55 208.63 L148.73 215.09 L148.91 209.55 L149.09 214.13 L149.27 208.55 L149.46 208.68 L149.64 216.82 L149.82 207.31 L150.00 204.98 L150.18 215.96 L150.36 207.73 L150.54 208.43 L150.73 204.92 L150.91 201.13 L151.09 198.64 L151.27 197.58 L151.45 205.02 L151.64 205.02 L151.82 202.27 L152.00 196.62 L152.19 203.71 L152.37 193.22 L152.55 191.36 L152.73 194.11 L152.91 189.59 L153.09 191.29 L153.27 185.91 L153.45 190.48 L153.63 190.48 L153.82 190.48 L154.00 187.73 L154.18 188.24 L154.37 200.13 L154.55 200.47 L154.73 198.64 L154.91 196.58 L155.09 200.24 L155.27 196.42 L155.45 211.36 L155.63 198.44 L155.81 192.25 L156.00 195.40 L156.18 195.00 L156.36 192.83 L156.55 196.45 L156.73 193.36 L156.91 184.09 L157.09 186.84 L157.27 185.52 L157.46 185.21 L157.64 176.82 L157.82 179.57 L158.00 179.57 L158.18 177.36 L158.36 173.18 L158.54 186.84 L158.73 183.10 L158.91 186.84 L159.09 184.09 L159.27 194.11 L159.45 193.36 L159.64 194.11 L159.82 191.36 L160.00 198.59 L160.19 205.02 L160.37 205.02 L160.55 202.27 L160.73 203.08 L160.91 208.81 L161.09 214.54 L161.27 216.82 L161.45 214.07 L161.63 215.42 L161.82 214.42 L162.00 231.36 L162.18 228.61 L162.37 228.61 L162.55 228.61 L162.73 242.27 L162.91 228.02 L163.09 228.13 L163.27 226.80 L163.45 229.55 L163.63 218.33 L163.81 219.36 L164.00 212.55 L164.18 215.00 L164.36 206.89 L164.55 215.43 L164.73 205.61 L164.91 207.73 L165.27 214.33 L165.63 206.99 L166.00 217.75 L166.36 215.00 L166.54 206.68 L166.73 213.10 L166.91 214.12 L167.09 200.45 L167.27 199.29 L167.45 203.20 L167.64 197.62 L167.82 191.36 L168.00 189.57 L168.19 194.11 L168.37 194.11 L168.55 185.91 L168.73 192.98 L168.91 183.55 L169.09 194.11 L169.27 191.36 L169.45 195.38 L169.63 196.88 L169.82 199.09 L170.00 205.91 L170.18 203.16 L170.37 203.16 L170.55 214.64 L170.73 218.64 L170.91 213.29 L171.09 202.94 L171.27 199.52 L171.45 202.27 L171.63 200.73 L171.81 201.58 L172.00 198.06 L172.18 185.91 L172.32 187.44 L172.45 188.66 L172.59 188.66 L172.73 176.82 L172.87 192.30 L173.00 192.30 L173.13 192.30 L173.27 189.55 L173.45 202.80 L173.63 197.37 L173.82 205.02 L174.00 202.27 L174.18 201.61 L174.37 206.55 L174.55 210.19 L174.73 213.18 L174.91 210.43 L175.09 210.43 L175.27 210.43 L175.45 220.45 L175.63 217.70 L175.81 217.70 L176.00 217.70 L176.18 227.73 L176.36 215.53 L176.55 203.16 L176.73 207.80 L176.91 205.91 L177.09 204.72 L177.27 201.36 L177.46 204.16 L177.64 191.36 L177.82 194.11 L178.00 194.11 L178.18 193.98 L178.36 187.73 L178.54 196.76 L178.73 201.38 L178.91 203.20 L179.09 200.45 L179.27 202.40 L179.45 212.32 L179.64 205.33 L179.82 215.00 L180.00 216.77 L180.19 216.62 L180.37 218.37 L180.55 227.73 L180.73 225.38 L180.91 213.01 L181.09 211.62 L181.27 213.18 L181.45 211.08 L181.63 211.17 L181.82 199.99 L182.00 200.45 L182.18 203.20 L182.37 199.88 L182.55 203.20 L182.73 195.00 L182.91 208.66 L183.09 204.94 L183.27 205.62 L183.45 205.91 L183.63 209.59 L183.81 203.16 L184.00 215.33 L184.18 218.64 L184.36 214.35 L184.55 211.94 L184.73 210.43 L184.91 213.18 L185.09 210.43 L185.27 211.46 L185.46 219.34 L185.64 227.73 L185.82 212.42 L186.00 216.47 L186.18 206.80 L186.36 209.55 L186.54 203.02 L186.73 205.07 L186.91 202.68 L187.09 200.45 L187.27 193.59 L187.45 196.79 L187.64 203.20 L187.82 191.36 L188.00 191.16 L188.19 191.56 L188.37 190.19 L188.55 184.09 L188.73 186.84 L188.91 186.84 L189.09 186.84 L189.27 180.45 L189.45 184.70 L189.63 199.57 L189.82 195.06 L190.00 196.82 L190.18 196.96 L190.37 207.93 L190.55 201.45 L190.73 205.91 L190.91 203.16 L191.09 203.16 L191.27 203.16 L191.45 213.18 L191.63 198.38 L191.81 199.73 L192.00 203.42 L192.18 200.45 L192.36 201.42 L192.55 197.70 L192.73 215.67 L192.91 215.00 L193.09 203.16 L193.27 204.63 L193.46 203.16 L193.64 205.91 L193.82 204.68 L194.00 198.11 L194.18 199.71 L194.36 191.36 L194.54 194.11 L194.73 194.11 L194.91 188.31 L195.09 182.27 L195.27 185.02 L195.45 185.02 L195.64 185.02 L195.82 180.45 L196.00 192.06 L196.19 192.30 L196.37 192.28 L196.55 189.55 L196.73 200.29 L196.91 197.80 L197.09 195.00 L197.27 205.91 L197.45 208.79 L197.63 205.65 L197.82 214.79 L198.00 224.09 L198.18 206.80 L198.37 210.33 L198.55 207.39 L198.73 209.55 L198.91 192.25 L199.09 193.95 L199.27 193.76 L199.45 195.00 L199.63 197.75 L199.81 188.61 L200.00 197.75 L200.18 191.36 L200.36 200.98 L200.55 199.29 L200.73 200.98 L200.91 198.64 L201.09 198.93 L201.27 202.40 L201.46 204.79 L201.64 209.55 L201.82 206.43 L202.00 207.00 L202.18 202.33 L202.36 204.09 L202.54 197.92 L202.73 198.07 L202.91 201.86 L203.09 200.45 L203.41 190.40 L203.73 191.04 L204.04 193.57 L204.36 191.36 L204.54 190.98 L204.73 190.85 L204.91 179.06 L205.09 180.45 L205.27 191.01 L205.45 193.90 L205.64 200.88 L205.82 200.45 L206.00 197.70 L206.19 200.97 L206.37 205.51 L206.55 209.55 L206.73 204.20 L206.91 205.00 L207.09 202.11 L207.27 191.36 L207.45 189.41 L207.63 194.11 L207.82 189.80 L208.00 180.45 L208.18 190.34 L208.37 204.17 L208.55 198.37 L208.73 209.55 L208.91 206.80 L209.09 206.80 L209.27 206.80 L209.45 222.27 L209.63 212.22 L209.81 206.76 L210.00 208.48 L210.18 200.45 L210.36 200.17 L210.55 194.55 L210.73 200.67 L210.91 191.36 L211.09 193.52 L211.27 195.95 L211.46 198.83 L211.64 204.09 L211.82 203.21 L212.00 209.62 L212.18 203.12 L212.36 215.00 L212.54 208.62 L212.73 205.82 L212.91 203.16 L213.09 205.91 L213.27 195.18 L213.45 194.91 L213.64 193.55 L213.82 173.18 L214.00 185.02 L214.19 185.02 L214.37 185.02 L214.55 182.27 L214.73 190.44 L214.91 194.11 L215.09 190.29 L215.27 191.36 L215.45 193.08 L215.63 199.77 L215.82 197.25 L216.00 209.55 L216.18 206.80 L216.37 206.80 L216.55 207.84 L216.73 218.64 L216.91 210.00 L217.09 206.80 L217.27 206.80 L217.45 209.55 L217.63 197.70 L217.81 204.03 L218.00 198.40 L218.18 200.45 L218.36 201.87 L218.55 194.07 L218.73 195.69 L218.91 196.82 L219.09 201.85 L219.27 194.07 L219.46 202.39 L219.64 209.55 L219.82 208.84 L220.00 211.15 L220.18 206.80 L220.36 227.73 L220.54 221.34 L220.73 221.34 L220.91 221.34 L221.09 224.09 L221.27 211.47 L221.45 203.91 L221.64 200.11 L221.82 191.36 L222.00 190.63 L222.19 192.50 L222.37 188.03 L222.55 171.36 L222.73 181.39 L222.91 181.39 L223.09 181.39 L223.27 178.64 L223.45 191.05 L223.63 198.78 L223.82 195.88 L224.00 200.45 L224.18 202.72 L224.37 203.79 L224.55 201.17 L224.73 204.09 L224.91 189.74 L225.09 198.93 L225.27 197.70 L225.45 191.36 L225.63 193.70 L225.81 188.87 L226.00 194.11 L226.18 184.09 L226.36 192.47 L226.55 192.37 L226.73 194.00 L226.91 200.45 L227.09 203.48 L227.27 198.26 L227.46 199.79 L227.64 209.55 L227.82 215.56 L228.00 213.44 L228.18 213.23 L228.36 216.82 L228.54 214.31 L228.73 210.03 L228.91 206.80 L229.09 209.55 L229.27 207.53 L229.45 204.32 L229.64 197.62 L229.82 182.27 L230.00 188.28 L230.19 205.74 L230.37 209.69 L230.55 209.55 L230.69 210.60 L230.82 216.96 L230.96 223.45 L231.09 238.64 L231.23 220.29 L231.37 221.40 L231.50 212.84 L231.64 205.91 L231.77 207.16 L231.91 200.41 L232.05 189.44 L232.18 173.18 L232.32 189.19 L232.45 194.11 L232.59 194.11 L232.73 191.36 L232.87 209.52 L233.00 212.17 L233.13 218.12 L233.27 218.64 L233.41 221.34 L233.55 220.14 L233.68 226.71 L233.82 249.55 L233.95 228.61 L234.09 228.61 L234.23 228.61 L234.36 231.36 L234.50 208.60 L234.63 216.25 L234.77 216.28 L234.91 209.55 L235.09 211.72 L235.27 199.53 L235.46 198.46 L235.64 191.36 L235.82 191.71 L236.00 197.30 L236.18 205.95 L236.36 205.91 L236.54 215.74 L236.73 203.17 L236.91 215.88 L237.09 218.64 L237.27 215.89 L237.45 215.89 L237.64 224.12 L237.82 227.73 L238.00 200.00 L238.19 207.39 L238.37 205.25 L238.55 200.45 L238.73 203.20 L238.91 202.64 L239.09 202.42 L239.27 182.27 L239.45 185.02 L239.63 185.02 L239.82 185.02 L240.00 169.55 L240.18 172.30 L240.37 172.30 L240.55 172.30 L240.73 162.27 L240.87 180.24 L241.00 179.12 L241.13 185.02 L241.27 182.27 L241.50 190.01 L241.73 186.21 L241.95 199.96 L242.18 209.55 L242.36 199.52 L242.55 199.52 L242.73 205.84 L242.91 202.27 L243.09 194.43 L243.27 192.81 L243.46 192.25 L243.64 195.00 L243.82 194.24 L244.00 194.22 L244.18 198.88 L244.36 209.55 L244.54 212.30 L244.73 200.83 L244.91 197.70 L245.09 200.45 L245.27 203.20 L245.45 200.66 L245.64 199.32 L245.82 191.36 L246.00 194.11 L246.19 194.11 L246.37 194.11 L246.55 182.27 L246.73 185.02 L246.91 185.02 L247.09 185.02 L247.27 178.64 L247.45 187.56 L247.63 191.35 L247.82 189.73 L248.00 191.36 L248.18 199.65 L248.37 201.36 L248.55 197.91 L248.73 209.55 L248.91 206.80 L249.09 216.46 L249.27 212.14 L249.45 224.09 L249.63 221.34 L249.81 221.34 L250.00 221.34 L250.18 227.73 L250.36 207.38 L250.55 205.83 L250.73 205.93 L250.91 200.45 L251.09 196.61 L251.27 187.35 L251.46 192.41 L251.64 176.82 L251.82 179.57 L252.00 179.57 L252.18 179.16 L252.36 164.09 L252.54 166.84 L252.73 166.84 L252.91 166.84 L253.09 160.45 L253.27 177.77 L253.45 174.36 L253.64 194.11 L253.82 191.36 L254.00 191.02 L254.19 195.22 L254.37 203.05 L254.55 209.55 L254.73 206.80 L254.91 211.39 L255.09 206.80 L255.27 224.09 L255.45 206.55 L255.63 197.42 L255.82 196.80 L256.00 191.36 L256.18 189.66 L256.37 187.37 L256.55 177.49 L256.73 176.82 L256.91 180.55 L257.09 189.82 L257.27 199.18 L257.45 200.45 L257.63 197.70 L257.81 201.84 L258.00 201.80 L258.18 213.18 L258.36 206.80 L258.55 206.80 L258.73 206.80 L258.91 209.55 L259.09 198.85 L259.27 193.44 L259.46 189.44 L259.64 182.27 L259.82 182.27 L260.00 181.66 L260.18 179.68 L260.36 175.00 L260.54 178.98 L260.73 186.84 L260.91 186.84 L261.09 184.09 L261.27 185.90 L261.45 186.84 L261.64 179.27 L261.82 175.00 L262.00 169.16 L262.19 172.83 L262.37 177.75 L262.55 170.45 L262.73 188.14 L262.91 184.20 L263.09 182.58 L263.27 191.36 L263.45 190.75 L263.63 189.68 L263.82 190.20 L264.00 209.55 L264.18 197.70 L264.37 197.70 L264.55 197.70 L264.73 200.45 L264.91 190.63 L265.09 188.16 L265.27 191.04 L265.45 182.27 L265.63 185.02 L265.81 185.02 L266.00 185.02 L266.18 173.18 L266.36 178.63 L266.55 185.02 L266.73 182.94 L266.91 182.27 L267.09 191.30 L267.27 194.73 L267.46 199.02 L267.64 200.45 L267.82 206.18 L268.00 201.01 L268.18 200.24 L268.36 218.64 L268.54 215.89 L268.73 215.89 L268.91 215.89 L269.09 231.36 L269.27 215.35 L269.45 216.12 L269.64 206.80 L269.82 209.55 L270.00 204.17 L270.19 205.48 L270.37 194.07 L270.55 196.82 L270.73 199.35 L270.91 196.76 L271.09 190.78 L271.27 191.36 L271.45 194.11 L271.63 194.11 L271.82 191.74 L272.00 182.27 L272.18 186.84 L272.37 186.84 L272.55 186.84 L272.73 184.09 L272.91 197.30 L273.09 198.59 L273.27 193.62 L273.45 200.45 L273.63 199.13 L273.81 203.15 L274.00 197.70 L274.18 213.18 L274.36 214.93 L274.55 210.43 L274.73 210.43 L274.91 218.64 L275.09 203.16 L275.27 205.65 L275.46 203.16 L275.64 205.91 L275.82 198.47 L276.00 197.84 L276.18 194.39 L276.36 195.00 L276.54 194.06 L276.73 196.04 L276.91 192.71 L277.09 187.73 L277.27 190.48 L277.45 190.48 L277.64 190.48 L277.82 182.27 L278.00 194.11 L278.19 194.11 L278.37 194.11 L278.55 191.36 L278.87 198.93 L279.19 198.33 L279.50 196.63 L279.82 200.45 L279.95 200.16 L280.09 206.51 L280.23 206.32 L280.36 215.00 L280.50 212.25 L280.63 212.25 L280.77 212.25 L280.91 227.73 L281.05 212.25 L281.18 212.30 L281.31 212.25 L281.45 215.00 L281.59 197.70 L281.73 200.00 L281.86 200.10 L282.00 200.45 L282.18 193.05 L282.37 197.51 L282.55 193.95 L282.73 191.36 L282.91 190.17 L283.09 187.23 L283.27 194.11 L283.45 182.27 L283.63 185.02 L283.81 184.85 L284.00 183.15 L284.18 173.18 L284.32 175.93 L284.46 175.93 L284.59 175.93 L284.73 168.64 L284.87 185.02 L285.00 185.02 L285.13 184.36 L285.27 182.27 L285.45 197.27 L285.63 193.89 L285.82 198.52 L286.00 200.45 L286.18 201.25 L286.37 198.93 L286.55 200.38 L286.73 218.64 L286.91 215.89 L287.09 215.89 L287.27 215.89 L287.45 222.27 L287.63 214.22 L287.81 206.46 L288.00 197.85 L288.18 200.45 L288.36 203.19 L288.55 205.65 L288.73 200.31 L288.91 209.55 L289.09 206.80 L289.27 211.66 L289.46 206.80 L289.64 222.27 L289.82 212.91 L290.00 198.65 L290.18 202.61 L290.36 191.36 L290.54 197.28 L290.73 195.45 L290.91 202.06 L291.09 200.45 L291.27 206.12 L291.45 204.50 L291.64 203.33 L291.82 213.18 L292.00 209.26 L292.19 199.52 L292.37 207.95 L292.55 202.27 L292.73 205.02 L292.91 205.02 L293.09 205.02 L293.27 196.82 L293.45 205.94 L293.63 208.71 L293.82 210.85 L294.00 222.27 L294.18 206.80 L294.37 216.70 L294.55 210.98 L294.73 209.55 L294.91 203.46 L295.09 197.39 L295.27 206.72 L295.45 191.36 L295.63 201.61 L295.81 195.40 L296.00 204.95 L296.18 202.27 L296.36 212.99 L296.55 206.12 L296.73 209.58 L296.91 215.00 L297.09 206.26 L297.27 203.73 L297.46 209.64 L297.64 202.27 L297.82 205.02 L298.00 203.63 L298.18 201.88 L298.36 196.82 L298.54 207.50 L298.73 204.25 L298.91 210.40 L299.09 209.55 L299.27 211.22 L299.45 201.95 L299.64 200.57 L299.82 200.45 L300.00 202.91 L300.19 203.20 L300.37 202.18 L300.55 191.36 L300.73 207.56 L300.91 197.85 L301.09 207.91 L301.27 205.91 L301.45 207.22 L301.63 212.68 L301.82 215.93 L302.00 224.09 L302.14 221.34 L302.27 221.34 L302.41 221.34 L302.55 235.00 L302.69 221.09 L302.82 215.89 L302.95 215.89 L303.09 218.64 L303.27 213.26 L303.45 208.28 L303.64 215.08 L303.82 209.55 L304.00 204.96 L304.19 210.59 L304.37 207.19 L304.55 202.27 L304.73 202.11 L304.91 207.29 L305.09 206.16 L305.27 215.00 L305.45 208.71 L305.63 208.42 L305.82 216.94 L306.00 209.55 L306.18 203.87 L306.37 211.48 L306.55 205.41 L306.73 200.45 L306.91 193.29 L307.09 188.61 L307.27 199.75 L307.45 191.36 L307.63 188.61 L307.81 198.51 L308.00 199.57 L308.18 196.82 L308.36 198.31 L308.55 196.35 L308.73 196.85 L308.91 202.27 L309.09 198.03 L309.27 194.19 L309.46 191.81 L309.64 191.36 L309.82 189.89 L310.00 194.11 L310.18 186.52 L310.36 182.27 L310.54 185.02 L310.73 181.27 L310.91 182.29 L311.09 175.00 L311.27 177.75 L311.45 177.75 L311.64 177.75 L311.82 173.18 L312.00 187.74 L312.19 186.96 L312.37 194.54 L312.55 195.00 L312.73 192.32 L312.91 195.03 L313.09 194.14 L313.27 191.36 L313.45 195.75 L313.63 188.61 L313.82 189.92 L314.00 200.45 L314.18 201.74 L314.37 199.00 L314.55 210.47 L314.73 209.55 L314.91 206.80 L315.09 206.80 L315.27 211.84 L315.45 216.82 L315.63 207.25 L315.81 211.10 L316.00 202.95 L316.18 200.45 L316.36 196.92 L316.55 199.40 L316.73 191.17 L316.91 187.73 L317.27 190.48 L317.63 190.48 L318.00 190.48 L318.36 185.91 L318.54 198.73 L318.73 195.02 L318.91 200.36 L319.09 200.45 L319.27 200.92 L319.45 208.81 L319.64 197.70 L319.82 215.00 L320.00 205.59 L320.19 205.42 L320.37 198.13 L320.55 200.45 L320.73 203.20 L320.91 199.34 L321.09 202.87 L321.27 191.36 L321.45 197.75 L321.63 197.75 L321.82 197.04 L322.00 195.00 L322.18 195.86 L322.37 201.03 L322.55 201.34 L322.73 205.91 L322.91 209.09 L323.09 207.54 L323.27 221.39 L323.45 218.64 L323.63 204.74 L323.81 214.63 L324.00 205.14 L324.18 200.45 L324.36 203.20 L324.55 203.20 L324.73 203.20 L324.91 196.82 L325.09 199.63 L325.27 208.35 L325.46 207.28 L325.64 209.55 L325.82 206.80 L326.00 213.32 L326.18 208.96 L326.36 218.64 L326.54 215.89 L326.73 219.35 L326.91 219.69 L327.09 227.73 L327.27 224.98 L327.45 230.28 L327.64 224.98 L327.82 233.18 L328.00 217.00 L328.19 218.90 L328.37 215.89 L328.55 218.64 L328.73 203.16 L328.91 203.59 L329.09 203.16 L329.27 205.91 L329.45 215.93 L329.63 208.15 L329.82 208.65 L330.00 213.18 L330.18 206.41 L330.37 211.81 L330.55 206.28 L330.73 202.27 L330.91 205.02 L331.09 205.02 L331.27 205.02 L331.45 196.82 L331.63 199.92 L331.81 201.39 L332.00 199.00 L332.18 198.64 L332.36 198.89 L332.55 191.38 L332.73 195.72 L332.91 193.18 L333.09 193.60 L333.27 195.36 L333.46 199.57 L333.64 196.82 L333.82 199.57 L334.00 199.57 L334.18 199.57 L334.36 191.36 L334.54 194.11 L334.73 194.11 L334.91 193.23 L335.09 187.73 L335.27 195.93 L335.45 195.51 L335.64 195.28 L335.82 193.18 L336.00 205.19 L336.19 206.84 L336.37 198.41 L336.55 204.09 L336.73 213.23 L336.91 210.63 L337.09 204.65 L337.27 215.00 L337.45 212.25 L337.63 213.02 L337.82 213.95 L338.00 222.27 L338.18 219.52 L338.37 219.52 L338.55 219.52 L338.73 224.09 L338.91 216.22 L339.09 214.97 L339.27 214.07 L339.45 216.82 L339.63 213.25 L339.81 203.16 L340.00 205.52 L340.18 205.91 L340.36 206.84 L340.55 210.17 L340.73 206.94 L340.91 209.55 L341.09 207.88 L341.27 204.61 L341.46 211.61 L341.64 196.82 L341.82 190.05 L342.00 198.35 L342.18 199.57 L342.36 187.73 L342.54 190.48 L342.73 186.22 L342.91 190.48 L343.09 184.09 L343.27 185.36 L343.45 186.84 L343.64 186.84 L343.82 182.27 L344.00 199.69 L344.19 196.50 L344.37 199.67 L344.55 200.45 L344.73 204.36 L344.91 201.92 L345.09 198.44 L345.27 209.55 L345.45 206.80 L345.63 206.80 L345.82 206.80 L346.00 213.18 L346.18 200.11 L346.37 199.86 L346.55 197.70 L346.73 200.45 L346.91 191.74 L347.09 193.55 L347.27 190.10 L347.45 182.27 L347.63 190.48 L347.81 190.48 L348.00 190.48 L348.18 187.73 L348.36 195.58 L348.55 192.18 L348.73 194.19 L348.91 200.45 L349.09 203.89 L349.27 199.58 L349.46 206.40 L349.64 209.55 L349.82 199.07 L350.00 202.76 L350.18 200.26 L350.36 196.82 L350.54 199.57 L350.73 195.35 L350.91 194.75 L351.09 191.36 L351.27 199.32 L351.45 200.31 L351.64 208.66 L351.82 205.91 L352.00 205.15 L352.19 205.07 L352.37 207.16 L352.55 215.00 L352.73 211.42 L352.91 209.24 L353.09 210.11 L353.27 205.91 L353.45 203.16 L353.63 212.30 L353.82 212.30 L354.00 209.55 L354.18 204.66 L354.37 196.33 L354.55 199.10 L354.73 184.09 L354.91 200.10 L355.09 191.72 L355.27 204.71 L355.45 209.55 L355.59 206.80 L355.73 218.54 L355.86 226.66 L356.00 242.27 L356.14 226.07 L356.27 212.25 L356.41 220.77 L356.55 215.00 L356.73 212.56 L356.91 204.75 L357.09 206.25 L357.27 196.82 L357.45 209.72 L357.63 203.24 L357.82 206.21 L358.00 209.55 L358.18 203.63 L358.37 209.07 L358.55 192.57 L358.73 193.18 L358.91 208.66 L359.09 199.90 L359.27 208.66 L359.45 205.91 L359.63 203.16 L359.81 205.42 L360.00 207.36 L360.18 209.55 L360.36 212.30 L360.55 201.03 L360.73 209.61 L360.91 200.45 L361.09 202.02 L361.27 203.20 L361.46 202.52 L361.64 196.82 L361.82 207.18 L362.00 205.90 L362.18 212.30 L362.36 209.55 L362.54 209.46 L362.73 212.06 L362.91 221.39 L363.09 218.64 L363.27 215.95 L363.45 219.75 L363.64 215.89 L363.82 227.73 L364.00 224.98 L364.19 224.98 L364.37 224.98 L364.55 233.18 L364.73 216.49 L364.91 214.07 L365.09 214.07 L365.27 216.82 L365.45 217.29 L365.63 213.26 L365.82 206.80 L366.00 209.55 L366.18 212.30 L366.37 205.43 L366.55 206.17 L366.73 204.09 L366.91 208.12 L367.09 202.31 L367.27 201.34 L367.45 205.91 L367.63 202.55 L367.81 208.66 L368.00 208.14 L368.18 198.64 L368.36 194.59 L368.55 201.39 L368.73 201.18 L368.91 196.82 L369.09 202.52 L369.27 201.24 L369.46 203.50 L369.64 202.27 L369.82 199.52 L370.00 199.91 L370.18 201.72 L370.36 209.55 L370.54 203.51 L370.73 206.69 L370.91 197.70 L371.09 200.45 L371.27 203.20 L371.45 197.20 L371.64 196.26 L371.82 191.36 L372.00 194.11 L372.19 194.11 L372.37 193.48 L372.55 184.09 L372.73 190.05 L372.91 191.26 L373.09 189.56 L373.27 191.36 L373.45 204.29 L373.63 206.30 L373.82 212.00 L374.00 209.55 L374.18 209.35 L374.37 210.44 L374.55 214.11 L374.73 224.09 L374.91 221.34 L375.09 221.34 L375.27 221.34 L375.45 231.36 L375.63 221.61 L375.81 206.80 L376.00 206.80 L376.18 209.55 L376.36 199.03 L376.55 205.39 L376.73 206.15 L376.91 200.45 L377.09 198.29 L377.27 201.57 L377.46 197.29 L377.64 191.36 L377.82 194.11 L378.00 192.81 L378.18 193.92 L378.36 182.27 L378.50 185.02 L378.63 185.02 L378.77 185.02 L378.91 176.82 L379.05 182.49 L379.18 190.48 L379.31 190.48 L379.45 187.73 L379.63 198.79 L379.81 200.79 L380.00 201.15 L380.18 200.45 L380.36 202.99 L380.55 197.70 L380.73 197.70 L380.91 209.55 L381.09 211.61 L381.27 211.19 L381.46 206.80 L381.64 222.27 L381.82 213.59 L382.00 209.28 L382.18 206.80 L382.36 209.55 L382.54 205.82 L382.73 195.30 L382.91 202.44 L383.09 191.36 L383.27 192.51 L383.45 191.33 L383.64 186.92 L383.82 184.09 L384.00 193.74 L384.19 194.11 L384.37 193.57 L384.55 191.36 L384.73 190.36 L384.91 199.57 L385.09 199.57 L385.27 196.82 L385.45 204.65 L385.63 200.42 L385.82 198.61 L386.00 205.91 L386.18 203.16 L386.37 207.75 L386.55 211.45 L386.73 209.55 L386.91 206.80 L387.09 206.83 L387.27 206.80 L387.45 215.00 L387.63 210.43 L387.81 210.43 L388.00 216.76 L388.18 213.18" fill="none" stroke="#4063ab" stroke-width="0.95" stroke-linejoin="round"/>
<line x1="23.44" x2="388.0" y1="203.6" y2="204.6" stroke="#2b834b" stroke-width="1.2" stroke-dasharray="2.6 0.6"/>
<rect x="23.0" y="287.6" width="365.0" height="110.0" fill="#dadada"/>
<line x1="23.0" x2="388.0" y1="383.85" y2="383.85" stroke="#f6f6f6" stroke-width="0.6"/>
<line x1="23.0" x2="388.0" y1="370.10" y2="370.10" stroke="#f6f6f6" stroke-width="0.6"/>
<line x1="23.0" x2="388.0" y1="356.35" y2="356.35" stroke="#f6f6f6" stroke-width="0.6"/>
<line x1="23.0" x2="388.0" y1="342.60" y2="342.60" stroke="#f6f6f6" stroke-width="0.6"/>
<line x1="23.0" x2="388.0" y1="328.85" y2="328.85" stroke="#f6f6f6" stroke-width="0.6"/>
<line x1="23.0" x2="388.0" y1="315.10" y2="315.10" stroke="#f6f6f6" stroke-width="0.6"/>
<line x1="23.0" x2="388.0" y1="301.35" y2="301.35" stroke="#f6f6f6" stroke-width="0.6"/>
<line x1="77.2" x2="77.2" y1="287.6" y2="397.6" stroke="#fff" stroke-width="0.85"/>
<line x1="153.5" x2="153.5" y1="287.6" y2="397.6" stroke="#fff" stroke-width="0.85"/>
<line x1="230.0" x2="230.0" y1="287.6" y2="397.6" stroke="#fff" stroke-width="0.85"/>
<line x1="306.0" x2="306.0" y1="287.6" y2="397.6" stroke="#fff" stroke-width="0.85"/>
<line x1="382.6" x2="382.6" y1="287.6" y2="397.6" stroke="#fff" stroke-width="0.85"/>
<line x1="23.0" x2="388.0" y1="356.65" y2="356.65" stroke="#efbd5e" stroke-width="1.0"/>
<line x1="23.0" x2="388.0" y1="370.20" y2="370.20" stroke="#a84c55" stroke-width="0.75"/>
<clipPath id="cp2"><rect x="23.0" y="287.6" width="365.0" height="110.0"/></clipPath>
<path clip-path="url(#cp2)" d="M25.00 348.00 L25.30 349.66 L25.60 353.00 L25.90 350.63 L26.20 346.00 L26.60 346.44 L27.00 344.00 L27.40 342.12 L27.80 341.00 L28.20 339.30 L28.60 338.00 L29.00 338.22 L29.40 342.00 L29.80 344.93 L30.20 345.00 L30.60 339.80 L31.00 336.00 L31.40 334.63 L31.80 335.00 L32.20 332.59 L32.60 330.00 L33.00 327.86 L33.40 328.00 L33.70 325.12 L34.00 325.00 L34.30 328.11 L34.60 332.00 L35.00 332.97 L35.40 330.00 L35.80 331.73 L36.20 334.00 L36.60 341.70 L37.00 348.00 L37.30 340.06 L37.60 336.00 L37.90 330.92 L38.20 331.00 L38.60 331.91 L39.00 328.00 L39.40 323.47 L39.80 320.00 L40.10 314.46 L40.40 313.00 L40.70 314.36 L41.00 316.00 L41.40 318.30 L41.80 319.00 L42.10 315.21 L42.40 316.00 L42.70 320.83 L43.00 328.00 L43.30 334.34 L43.60 340.00 L43.90 350.78 L44.20 364.00 L44.50 364.56 L44.80 363.00 L45.10 365.78 L45.40 366.00 L45.70 369.59 L46.00 372.00 L46.30 367.43 L46.60 364.00 L46.90 352.94 L47.20 342.00 L47.50 338.66 L47.80 337.00 L48.20 334.83 L48.60 333.00 L48.90 331.92 L49.20 330.00 L49.50 331.60 L49.80 334.00 L50.10 339.29 L50.40 342.00 L50.70 344.44 L51.00 340.00 L51.30 342.27 L51.60 346.00 L51.90 352.46 L52.20 358.00 L52.50 351.09 L52.80 342.00 L53.10 341.86 L53.40 340.00 L53.80 336.68 L54.20 334.00 L54.60 330.86 L55.00 329.00 L55.30 332.83 L55.60 334.00 L55.90 338.83 L56.20 342.00 L56.60 344.17 L57.00 345.00 L57.40 339.43 L57.80 336.00 L58.20 332.84 L58.60 328.00 L59.00 327.56 L59.40 325.00 L59.80 325.25 L60.20 326.00 L60.60 328.86 L61.00 330.00 L61.40 334.88 L61.80 334.00 L62.20 334.51 L62.60 340.00 L63.00 342.81 L63.40 344.00 L63.80 343.44 L64.20 346.00 L64.60 345.19 L65.00 348.00 L65.40 348.69 L65.80 350.00 L66.20 349.73 L66.60 348.00 L67.00 350.07 L67.40 352.00 L67.80 352.95 L68.20 357.00 L68.60 355.59 L69.00 358.00 L69.40 355.26 L69.80 354.00 L70.20 353.52 L70.60 353.00 L71.00 355.40 L71.40 360.00 L71.80 359.00 L72.20 362.00 L72.60 360.33 L73.00 354.00 L73.50 349.89 L74.00 348.00 L74.50 348.79 L75.00 350.00 L75.50 346.27 L76.00 344.00 L76.50 338.22 L77.00 334.00 L77.30 332.05 L77.60 330.00 L78.00 333.60 L78.40 338.00 L78.80 337.32 L79.20 335.00 L79.60 336.42 L80.00 341.00 L80.40 341.52 L80.80 346.00 L81.20 344.59 L81.60 338.00 L82.00 335.90 L82.40 334.00 L82.80 333.52 L83.20 331.00 L83.60 330.07 L84.00 326.00 L84.40 324.24 L84.80 321.00 L85.20 322.55 L85.60 324.00 L86.00 324.93 L86.40 330.00 L86.80 329.87 L87.20 334.00 L87.60 338.30 L88.00 340.00 L88.40 342.40 L88.80 343.00 L89.20 339.26 L89.60 334.00 L90.00 330.79 L90.40 332.00 L90.80 332.16 L91.20 338.00 L91.60 343.59 L92.00 352.00 L92.40 356.43 L92.80 364.00 L93.20 365.21 L93.60 366.00 L94.00 366.64 L94.40 370.00 L94.70 373.61 L95.00 373.00 L95.30 367.67 L95.60 364.00 L95.90 352.25 L96.20 342.00 L96.50 338.15 L96.80 332.00 L97.10 330.44 L97.40 328.00 L97.70 323.30 L98.00 321.00 L98.30 320.59 L98.60 318.00 L99.00 321.56 L99.40 320.00 L99.80 323.36 L100.20 330.00 L100.60 333.67 L101.00 338.00 L101.30 340.56 L101.60 346.00 L102.00 347.41 L102.40 354.00 L102.80 355.84 L103.20 356.00 L103.60 358.93 L104.00 360.00 L104.30 364.80 L104.60 367.00 L104.90 364.07 L105.20 360.00 L105.60 353.31 L106.00 352.00 L106.40 347.96 L106.80 344.00 L107.20 338.11 L107.60 334.00 L108.00 329.43 L108.40 328.00 L108.80 328.02 L109.20 331.00 L109.60 333.52 L110.00 334.00 L110.40 337.60 L110.80 342.00 L111.20 350.62 L111.60 354.00 L112.00 357.63 L112.40 360.00 L112.70 360.45 L113.00 366.00 L113.30 363.19 L113.60 358.00 L114.00 353.67 L114.40 346.00 L114.80 343.04 L115.20 340.00 L115.60 335.38 L116.00 334.00 L116.40 334.36 L116.80 330.00 L117.20 327.25 L117.60 328.00 L118.00 331.89 L118.40 336.00 L118.80 331.45 L119.20 332.00 L119.60 329.32 L120.00 330.00 L120.50 329.23 L121.00 333.00 L121.40 333.46 L121.80 331.00 L122.20 334.58 L122.60 335.00 L123.00 332.96 L123.40 332.00 L123.80 332.19 L124.20 336.00 L124.60 331.92 L125.00 328.00 L125.30 324.01 L125.60 319.00 L125.90 322.46 L126.20 330.00 L126.60 330.45 L127.00 334.00 L127.40 332.86 L127.80 332.00 L128.10 339.94 L128.40 346.00 L128.70 355.10 L129.00 364.00 L129.30 375.10 L129.60 385.00 L129.90 378.83 L130.20 376.00 L130.50 363.66 L130.80 358.00 L131.10 356.42 L131.40 354.00 L131.70 345.77 L132.00 340.00 L132.30 337.83 L132.60 336.00 L132.90 341.49 L133.20 348.00 L133.50 343.64 L133.80 338.00 L134.10 343.96 L134.40 352.00 L134.70 356.94 L135.00 358.00 L135.30 353.04 L135.60 348.00 L135.90 340.71 L136.20 332.00 L136.60 329.34 L137.00 325.00 L137.40 325.39 L137.80 323.00 L138.20 326.04 L138.60 328.00 L139.00 329.65 L139.40 336.00 L139.80 338.16 L140.20 342.00 L140.60 348.50 L141.00 350.00 L141.40 357.63 L141.80 364.00 L142.10 369.75 L142.40 374.00 L142.70 375.63 L143.00 376.00 L143.30 369.14 L143.60 364.00 L143.90 358.09 L144.20 354.00 L144.60 350.13 L145.00 348.00 L145.40 350.56 L145.80 350.00 L146.20 353.49 L146.60 356.00 L147.00 361.39 L147.40 362.00 L147.80 363.67 L148.20 364.00 L148.60 364.54 L149.00 360.00 L149.40 357.62 L149.80 354.00 L150.20 348.41 L150.60 346.00 L151.00 346.34 L151.40 342.00 L151.80 339.45 L152.20 336.00 L152.60 334.60 L153.00 330.00 L153.40 328.29 L153.80 326.00 L154.20 325.06 L154.60 325.00 L155.00 326.73 L155.40 328.00 L155.80 327.99 L156.20 331.00 L156.60 333.89 L157.00 340.00 L157.40 337.80 L157.80 338.00 L158.20 334.29 L158.60 332.00 L159.00 324.17 L159.40 320.00 L159.70 319.36 L160.00 319.00 L160.30 323.91 L160.60 328.00 L161.00 335.73 L161.40 338.00 L161.80 345.48 L162.20 348.00 L162.60 355.93 L163.00 364.00 L163.40 370.19 L163.80 374.00 L164.20 375.70 L164.60 378.00 L164.90 375.53 L165.20 372.00 L165.60 367.95 L166.00 364.00 L166.40 361.27 L166.80 360.00 L167.20 354.10 L167.60 348.00 L168.00 337.00 L168.40 330.00 L168.80 329.09 L169.20 327.00 L169.60 325.61 L170.00 325.00 L170.40 325.04 L170.80 328.00 L171.20 333.51 L171.60 340.00 L172.00 343.75 L172.40 346.00 L172.80 339.08 L173.20 334.00 L173.60 332.14 L174.00 329.00 L174.40 331.27 L174.80 332.00 L175.20 343.11 L175.60 350.00 L176.00 350.53 L176.40 354.00 L176.80 347.85 L177.20 342.00 L177.60 337.19 L178.00 331.00 L178.40 335.53 L178.80 336.00 L179.20 338.35 L179.60 340.00 L180.00 345.02 L180.40 348.00 L180.80 349.01 L181.20 354.00 L181.60 354.21 L182.00 356.00 L182.40 352.25 L182.80 344.00 L183.20 340.61 L183.60 338.00 L184.00 341.93 L184.40 340.00 L184.80 346.01 L185.20 354.00 L185.60 351.12 L186.00 349.00 L186.40 341.34 L186.80 338.00 L187.20 337.36 L187.60 335.00 L188.00 337.86 L188.40 340.00 L188.80 340.74 L189.20 336.00 L189.60 338.22 L190.00 340.00 L190.40 342.66 L190.80 346.00 L191.20 339.09 L191.60 336.00 L192.00 334.89 L192.40 334.00 L192.80 340.28 L193.20 344.00 L193.60 348.00 L194.00 350.00 L194.40 343.67 L194.80 334.00 L195.20 331.17 L195.60 326.00 L196.00 326.94 L196.40 328.00 L196.80 331.82 L197.20 334.00 L197.60 336.23 L198.00 338.00 L198.40 341.19 L198.80 348.00 L199.20 353.32 L199.60 354.00 L200.00 347.51 L200.40 340.00 L200.80 336.57 L201.20 336.00 L201.60 343.52 L202.00 350.00 L202.40 357.39 L202.80 364.00 L203.20 359.35 L203.60 352.00 L204.00 351.96 L204.40 348.00 L204.80 339.87 L205.20 340.00 L205.60 339.75 L206.00 338.00 L206.40 338.08 L206.80 334.00 L207.20 333.71 L207.60 336.00 L208.00 339.47 L208.40 348.00 L208.80 350.38 L209.20 352.00 L209.60 347.46 L210.00 342.00 L210.40 339.48 L210.80 336.00 L211.30 336.49 L211.80 340.00 L212.20 343.36 L212.60 348.00 L213.00 343.27 L213.40 338.00 L213.80 334.01 L214.20 328.00 L214.60 329.48 L215.00 325.00 L215.40 327.90 L215.80 330.00 L216.20 332.18 L216.60 336.00 L217.00 336.79 L217.40 344.00 L217.80 347.46 L218.20 348.00 L218.60 349.82 L219.00 352.00 L219.40 353.85 L219.80 356.00 L220.20 358.65 L220.60 364.00 L221.00 358.00 L221.40 350.00 L221.80 342.56 L222.20 340.00 L222.60 337.15 L223.00 334.00 L223.40 331.66 L223.80 329.00 L224.20 330.41 L224.60 331.00 L225.00 335.28 L225.40 336.00 L225.80 334.87 L226.20 334.00 L226.60 337.13 L227.00 340.00 L227.40 344.17 L227.80 346.00 L228.20 344.89 L228.60 348.00 L229.00 350.60 L229.40 354.00 L229.80 356.09 L230.20 358.00 L230.60 357.30 L231.00 354.00 L231.40 350.91 L231.80 350.00 L232.20 354.10 L232.60 356.00 L233.00 357.52 L233.40 358.00 L233.70 360.97 L234.00 368.00 L234.30 373.98 L234.60 384.00 L234.90 388.05 L235.20 396.00 L235.50 389.19 L235.80 382.00 L236.10 369.28 L236.40 356.00 L236.70 353.99 L237.00 350.00 L237.40 350.12 L237.80 348.00 L238.20 344.25 L238.60 342.00 L239.00 340.46 L239.40 336.00 L239.80 334.12 L240.20 330.00 L240.60 331.64 L241.00 332.00 L241.40 329.65 L241.80 326.00 L242.20 323.24 L242.60 324.00 L243.00 330.49 L243.40 336.00 L243.80 335.59 L244.20 338.00 L244.60 340.37 L245.00 346.00 L245.40 348.52 L245.80 352.00 L246.20 347.19 L246.60 342.00 L247.00 335.93 L247.40 330.00 L247.80 325.55 L248.20 322.00 L248.60 319.13 L249.00 319.00 L249.40 323.75 L249.80 328.00 L250.20 329.99 L250.60 334.00 L251.00 325.08 L251.40 320.00 L251.80 316.13 L252.20 312.00 L252.60 311.99 L253.00 308.00 L253.40 308.45 L253.80 310.00 L254.20 316.55 L254.60 326.00 L255.00 334.89 L255.40 340.00 L255.80 346.34 L256.20 348.00 L256.60 351.60 L257.00 356.00 L257.40 353.71 L257.80 352.00 L258.30 346.29 L258.80 340.00 L259.20 338.04 L259.60 328.00 L260.00 326.18 L260.40 324.00 L260.80 324.36 L261.20 322.00 L261.60 325.61 L262.00 328.00 L262.40 328.51 L262.80 334.00 L263.20 337.49 L263.60 344.00 L264.00 346.31 L264.40 352.00 L264.80 346.59 L265.20 340.00 L265.60 330.15 L266.00 320.00 L266.30 319.45 L266.60 314.00 L266.90 315.63 L267.20 318.00 L267.60 323.42 L268.00 328.00 L268.40 338.10 L268.80 348.00 L269.20 359.19 L269.60 370.00 L269.90 365.17 L270.20 354.00 L270.50 346.39 L270.80 338.00 L271.20 334.02 L271.60 326.00 L272.00 326.78 L272.40 324.00 L272.80 327.17 L273.20 332.00 L273.60 336.94 L274.00 340.00 L274.40 342.48 L274.80 346.00 L275.20 341.15 L275.60 336.00 L276.00 334.22 L276.40 332.00 L276.80 335.03 L277.20 338.00 L277.60 332.36 L278.00 328.00 L278.40 329.13 L278.80 326.00 L279.20 330.64 L279.60 336.00 L280.00 342.96 L280.40 348.00 L280.80 354.30 L281.20 356.00 L281.60 357.86 L282.00 358.00 L282.40 357.41 L282.80 354.00 L283.20 344.90 L283.60 332.00 L284.00 329.49 L284.40 324.00 L284.80 325.36 L285.20 322.00 L285.60 320.54 L286.00 323.00 L286.40 328.18 L286.80 328.00 L287.20 333.04 L287.60 338.00 L288.00 340.60 L288.40 348.00 L288.80 346.12 L289.20 346.00 L289.60 342.09 L290.00 342.00 L290.40 338.97 L290.80 336.00 L291.20 332.96 L291.60 334.00 L292.00 335.62 L292.40 340.00 L292.80 344.41 L293.20 348.00 L293.60 354.22 L294.00 360.00 L294.40 352.91 L294.80 348.00 L295.20 342.68 L295.60 338.00 L296.00 336.86 L296.40 336.00 L296.80 338.10 L297.20 340.00 L297.60 343.99 L298.00 348.00 L298.40 344.70 L298.80 342.00 L299.20 341.71 L299.60 339.00 L300.00 336.30 L300.40 338.00 L300.80 340.32 L301.20 344.00 L301.60 346.18 L302.00 348.00 L302.40 350.45 L302.80 354.00 L303.20 355.24 L303.60 358.00 L304.00 353.40 L304.40 350.00 L304.80 347.29 L305.20 344.00 L305.50 346.71 L305.80 346.00 L306.20 341.75 L306.60 338.00 L307.00 336.63 L307.40 336.00 L307.80 335.49 L308.20 334.00 L308.60 334.67 L309.00 336.00 L309.40 335.34 L309.80 340.00 L310.20 337.37 L310.60 334.00 L311.00 328.48 L311.40 324.00 L311.80 321.71 L312.20 321.00 L312.60 322.36 L313.00 322.00 L313.40 325.06 L313.80 328.00 L314.20 332.22 L314.60 338.00 L315.00 341.01 L315.40 350.00 L315.80 350.64 L316.20 356.00 L316.60 357.02 L317.00 358.00 L317.40 353.84 L317.80 350.00 L318.20 343.60 L318.60 336.00 L319.00 335.31 L319.40 334.00 L319.80 335.34 L320.20 338.00 L320.60 340.26 L321.00 346.00 L321.40 342.50 L321.80 342.00 L322.20 339.81 L322.60 338.00 L323.00 339.42 L323.40 344.00 L323.80 346.04 L324.20 346.00 L324.60 339.18 L325.00 336.00 L325.40 334.54 L325.80 338.00 L326.20 336.73 L326.60 336.00 L327.00 339.56 L327.40 348.00 L327.80 354.24 L328.20 356.00 L328.50 357.64 L328.80 362.00 L329.10 366.93 L329.40 372.00 L329.70 374.66 L330.00 378.00 L330.30 367.87 L330.60 360.00 L330.90 353.57 L331.20 352.00 L331.50 350.44 L331.80 354.00 L332.20 352.19 L332.60 348.00 L333.00 344.40 L333.40 338.00 L333.80 338.97 L334.20 334.00 L334.60 331.49 L335.00 333.00 L335.40 332.77 L335.80 331.00 L336.20 332.98 L336.60 335.00 L337.00 339.66 L337.40 342.00 L337.80 338.29 L338.20 336.00 L338.60 340.99 L339.00 344.00 L339.40 350.23 L339.80 354.00 L340.20 359.83 L340.60 364.00 L341.00 362.99 L341.40 358.00 L341.80 349.76 L342.20 342.00 L342.60 337.12 L343.00 328.00 L343.40 325.54 L343.80 325.00 L344.20 328.79 L344.60 328.00 L344.80 325.25 L345.00 330.00 L345.40 334.02 L345.80 338.00 L346.20 338.90 L346.60 342.00 L347.00 338.00 L347.40 334.00 L347.80 329.92 L348.20 323.00 L348.60 324.49 L349.00 324.00 L349.40 327.13 L349.80 330.00 L350.20 335.34 L350.60 336.00 L351.00 335.97 L351.40 340.00 L351.80 342.88 L352.20 348.00 L352.60 352.08 L353.00 352.00 L353.40 354.45 L353.80 356.00 L354.20 354.15 L354.60 358.00 L355.00 361.47 L355.40 364.00 L355.80 364.37 L356.20 368.00 L356.60 373.03 L357.00 374.00 L357.30 378.57 L357.60 380.00 L357.90 373.25 L358.20 368.00 L358.50 362.78 L358.80 354.00 L359.10 349.85 L359.40 348.00 L359.80 346.27 L360.20 342.00 L360.60 341.80 L361.00 340.00 L361.40 338.83 L361.80 338.00 L362.20 337.05 L362.60 340.00 L363.00 341.62 L363.40 344.00 L363.80 347.85 L364.20 358.00 L364.60 363.23 L365.00 370.00 L365.40 368.46 L365.80 372.00 L366.20 371.67 L366.60 368.00 L367.00 359.67 L367.40 354.00 L367.80 347.66 L368.20 348.00 L368.60 346.80 L369.00 344.00 L369.40 342.51 L369.80 340.00 L370.20 340.30 L370.60 342.00 L371.00 342.91 L371.40 338.00 L371.80 338.06 L372.20 336.00 L372.60 335.09 L373.00 334.00 L373.40 336.11 L373.80 340.00 L374.20 338.94 L374.60 346.00 L375.00 355.66 L375.40 364.00 L375.70 371.32 L376.00 376.00 L376.30 371.19 L376.60 368.00 L377.00 358.06 L377.40 352.00 L377.80 346.94 L378.20 342.00 L378.60 332.70 L379.00 328.00 L379.30 324.01 L379.60 320.00 L379.90 320.06 L380.20 318.00 L380.60 323.08 L381.00 324.00 L381.40 326.36 L381.80 328.00 L382.20 331.27 L382.60 334.00 L383.00 338.03 L383.40 340.00 L383.80 339.92 L384.20 336.00 L384.60 336.56 L385.00 338.00 L385.40 341.31 L385.80 348.00 L386.20 348.91 L386.60 352.00 L387.00 352.27 L387.40 356.00 L387.70 356.28 L388.00 359.00" fill="none" stroke="#4063ab" stroke-width="1.1" stroke-linejoin="round"/>
<line x1="25.0" x2="388.0" y1="341.1" y2="343.9" stroke="#41a847" stroke-width="1.2" stroke-dasharray="2.3 1.0"/>
<rect x="23.0" y="425.6" width="365.0" height="110.0" fill="#dadada"/>
<line x1="23.0" x2="388.0" y1="521.85" y2="521.85" stroke="#f6f6f6" stroke-width="0.6"/>
<line x1="23.0" x2="388.0" y1="508.10" y2="508.10" stroke="#f6f6f6" stroke-width="0.6"/>
<line x1="23.0" x2="388.0" y1="494.35" y2="494.35" stroke="#f6f6f6" stroke-width="0.6"/>
<line x1="23.0" x2="388.0" y1="480.60" y2="480.60" stroke="#f6f6f6" stroke-width="0.6"/>
<line x1="23.0" x2="388.0" y1="466.85" y2="466.85" stroke="#f6f6f6" stroke-width="0.6"/>
<line x1="23.0" x2="388.0" y1="453.10" y2="453.10" stroke="#f6f6f6" stroke-width="0.6"/>
<line x1="23.0" x2="388.0" y1="439.35" y2="439.35" stroke="#f6f6f6" stroke-width="0.6"/>
<line x1="77.2" x2="77.2" y1="425.6" y2="535.6" stroke="#fff" stroke-width="0.85"/>
<line x1="153.5" x2="153.5" y1="425.6" y2="535.6" stroke="#fff" stroke-width="0.85"/>
<line x1="230.0" x2="230.0" y1="425.6" y2="535.6" stroke="#fff" stroke-width="0.85"/>
<line x1="306.0" x2="306.0" y1="425.6" y2="535.6" stroke="#fff" stroke-width="0.85"/>
<line x1="382.6" x2="382.6" y1="425.6" y2="535.6" stroke="#fff" stroke-width="0.85"/>
<line x1="23.0" x2="388.0" y1="494.65" y2="494.65" stroke="#efbd5e" stroke-width="1.0"/>
<line x1="23.0" x2="388.0" y1="508.20" y2="508.20" stroke="#a84c55" stroke-width="0.75"/>
<clipPath id="cp3"><rect x="23.0" y="425.6" width="365.0" height="110.0"/></clipPath>
<path clip-path="url(#cp3)" d="M28.00 480.00 L28.50 481.88 L29.00 484.00 L29.80 486.83 L30.60 489.00 L31.00 481.65 L31.40 474.00 L32.20 472.57 L33.00 471.00 L33.50 469.16 L34.00 468.00 L34.70 468.91 L35.40 469.00 L36.20 467.85 L37.00 465.00 L37.70 466.73 L38.40 467.00 L38.90 466.44 L39.40 463.00 L39.90 460.22 L40.40 458.00 L40.90 457.26 L41.40 457.00 L42.20 458.13 L43.00 456.00 L43.50 462.69 L44.00 469.00 L44.50 470.40 L45.00 471.00 L45.50 474.68 L46.00 479.00 L46.30 488.93 L46.60 497.00 L47.00 493.11 L47.40 490.00 L48.00 490.03 L48.60 492.00 L49.00 487.94 L49.40 484.00 L49.90 480.07 L50.40 477.00 L50.90 479.30 L51.40 480.00 L52.00 478.84 L52.60 478.40 L53.00 480.32 L53.40 482.00 L54.00 479.99 L54.60 478.40 L55.10 480.03 L55.60 481.00 L56.30 478.39 L57.00 477.00 L57.70 473.56 L58.40 468.00 L59.00 467.13 L59.60 469.00 L60.10 470.63 L60.60 473.00 L61.10 470.62 L61.60 469.60 L62.30 471.42 L63.00 472.00 L63.50 473.04 L64.00 474.00 L64.50 479.47 L65.00 484.00 L65.80 485.68 L66.60 488.00 L67.30 492.81 L68.00 499.00 L68.70 495.92 L69.40 495.00 L69.70 495.18 L70.00 496.00 L70.50 499.98 L71.00 505.00 L71.50 506.27 L72.00 507.00 L72.50 504.84 L73.00 502.00 L73.50 499.94 L74.00 496.00 L74.50 495.40 L75.00 495.00 L75.50 490.78 L76.00 488.00 L76.50 482.98 L77.00 480.00 L77.50 479.26 L78.00 478.40 L78.50 479.05 L79.00 479.00 L79.50 478.88 L80.00 475.00 L80.50 474.68 L81.00 474.00 L81.50 477.69 L82.00 478.00 L82.50 476.80 L83.00 472.00 L83.50 469.49 L84.00 469.00 L84.50 469.16 L85.00 467.00 L85.50 466.59 L86.00 464.00 L86.50 465.80 L87.00 465.00 L87.30 466.49 L87.60 468.00 L88.00 467.42 L88.40 465.00 L88.90 465.54 L89.40 467.00 L89.70 468.43 L90.00 470.00 L90.50 470.52 L91.00 471.00 L91.50 475.22 L92.00 476.00 L92.50 479.79 L93.00 484.00 L93.50 486.42 L94.00 487.00 L94.50 488.56 L95.00 490.00 L95.30 494.82 L95.60 501.00 L95.90 494.73 L96.20 488.00 L96.60 488.14 L97.00 487.00 L97.50 480.81 L98.00 476.00 L98.50 469.61 L99.00 462.00 L99.50 460.31 L100.00 460.00 L100.50 459.96 L101.00 461.60 L101.50 465.51 L102.00 469.00 L102.50 470.27 L103.00 472.00 L103.50 477.05 L104.00 484.00 L104.30 488.43 L104.60 496.00 L104.90 501.02 L105.20 506.00 L105.60 501.73 L106.00 497.00 L106.50 498.06 L107.00 500.00 L107.50 493.18 L108.00 486.00 L108.50 478.53 L109.00 474.00 L109.50 472.88 L110.00 471.00 L110.50 470.40 L111.00 469.00 L111.30 473.77 L111.60 478.00 L112.10 478.41 L112.60 480.00 L113.10 478.58 L113.60 477.00 L114.00 484.63 L114.40 492.00 L114.70 495.03 L115.00 496.00 L115.50 495.27 L116.00 494.00 L116.50 490.24 L117.00 486.00 L117.50 479.80 L118.00 475.00 L118.50 474.83 L119.00 473.00 L119.50 470.13 L120.00 465.00 L120.50 465.52 L121.00 467.00 L121.50 467.11 L122.00 466.00 L122.50 467.30 L123.00 468.00 L123.50 466.46 L124.00 465.00 L124.50 462.76 L125.00 463.00 L125.50 466.19 L126.00 466.00 L126.50 465.20 L127.00 468.00 L127.50 467.79 L128.00 467.00 L128.30 469.14 L128.60 472.00 L129.00 479.10 L129.40 484.00 L129.70 485.59 L130.00 488.00 L130.50 490.54 L131.00 493.00 L131.50 495.59 L132.00 497.00 L132.50 496.94 L133.00 496.00 L133.50 490.50 L134.00 486.00 L134.30 481.66 L134.60 476.00 L135.00 473.38 L135.40 470.00 L135.90 470.45 L136.40 469.00 L136.90 469.51 L137.40 471.00 L137.90 469.96 L138.40 469.00 L138.90 470.12 L139.40 472.00 L139.90 470.19 L140.40 470.00 L140.90 473.24 L141.40 476.00 L141.70 481.39 L142.00 486.00 L142.30 491.36 L142.60 494.00 L143.00 494.69 L143.40 496.00 L143.70 498.87 L144.00 501.00 L144.50 503.60 L145.00 504.00 L145.30 506.39 L145.60 509.00 L146.00 507.06 L146.40 505.00 L146.70 507.63 L147.00 510.00 L147.30 506.34 L147.60 504.00 L147.90 501.05 L148.20 500.00 L148.60 502.57 L149.00 503.00 L149.40 505.67 L149.80 508.00 L150.20 504.93 L150.60 502.00 L151.00 497.81 L151.40 496.00 L151.80 491.11 L152.20 486.00 L152.60 482.13 L153.00 476.00 L153.50 471.40 L154.00 469.00 L154.50 467.14 L155.00 467.00 L155.50 469.06 L156.00 469.00 L156.50 469.87 L157.00 468.00 L157.50 467.99 L158.00 465.00 L158.30 462.97 L158.60 462.00 L159.00 465.08 L159.40 467.00 L159.90 466.78 L160.40 468.00 L160.90 469.00 L161.40 469.00 L162.00 472.15 L162.60 476.00 L163.00 479.19 L163.40 482.00 L163.80 484.29 L164.20 484.00 L164.60 487.32 L165.00 490.00 L165.30 499.77 L165.60 510.00 L165.90 519.05 L166.20 528.00 L166.30 530.25 L166.40 532.00 L166.70 529.01 L167.00 527.00 L167.30 530.20 L167.60 533.00 L167.90 526.07 L168.20 518.00 L168.50 507.49 L168.80 494.00 L169.10 485.03 L169.40 480.00 L169.90 478.36 L170.40 479.00 L170.90 475.32 L171.40 474.00 L171.90 470.34 L172.40 465.00 L172.90 465.84 L173.40 462.00 L173.90 463.69 L174.40 465.00 L174.70 469.62 L175.00 474.00 L175.30 472.59 L175.60 469.00 L176.00 467.16 L176.40 470.00 L176.70 472.83 L177.00 476.00 L177.30 474.52 L177.60 479.00 L178.00 477.15 L178.40 475.00 L178.80 477.01 L179.20 480.00 L179.60 478.54 L180.00 478.00 L180.40 480.33 L180.80 482.00 L181.20 484.44 L181.60 488.00 L182.00 485.56 L182.40 481.00 L182.80 478.50 L183.20 476.00 L183.60 480.36 L184.00 484.00 L184.40 489.93 L184.80 491.00 L185.20 490.07 L185.60 490.00 L186.00 486.89 L186.40 482.00 L186.80 478.71 L187.20 477.00 L187.60 479.69 L188.00 480.00 L188.40 482.92 L188.80 484.00 L189.20 482.63 L189.60 481.00 L190.00 479.45 L190.40 476.00 L190.80 479.04 L191.20 479.00 L191.60 483.82 L192.00 486.00 L192.40 483.00 L192.80 480.00 L193.20 478.95 L193.60 478.00 L194.00 477.06 L194.40 474.00 L194.80 474.60 L195.20 478.00 L195.60 475.42 L196.00 474.00 L196.40 475.96 L196.80 477.00 L197.20 474.54 L197.60 471.00 L198.00 471.78 L198.40 469.00 L198.80 471.68 L199.20 471.00 L199.60 473.81 L200.00 476.00 L200.40 477.42 L200.80 478.00 L201.20 475.74 L201.60 476.00 L202.00 478.32 L202.40 481.00 L202.80 486.25 L203.20 491.00 L203.60 488.28 L204.00 486.00 L204.40 487.06 L204.80 488.00 L205.20 484.58 L205.60 480.00 L206.00 484.59 L206.40 491.00 L206.80 487.96 L207.20 486.00 L207.60 480.31 L208.00 478.00 L208.40 477.09 L208.80 474.00 L209.20 476.49 L209.60 481.00 L210.00 474.88 L210.40 472.00 L210.80 474.73 L211.20 476.00 L211.60 474.30 L212.00 473.00 L212.50 477.42 L213.00 480.00 L213.20 478.15 L213.40 477.00 L213.80 477.52 L214.20 474.00 L214.60 473.68 L215.00 472.00 L215.40 474.14 L215.80 476.00 L216.20 474.61 L216.60 473.00 L217.00 473.80 L217.40 475.00 L217.80 479.27 L218.20 482.00 L218.60 485.90 L219.00 486.00 L219.40 489.60 L219.80 494.00 L220.20 500.96 L220.60 510.00 L220.90 504.57 L221.20 498.00 L221.50 493.02 L221.80 486.00 L222.20 482.08 L222.60 481.00 L223.00 481.84 L223.40 484.00 L223.80 481.05 L224.20 480.00 L224.60 479.53 L225.00 478.00 L225.40 477.48 L225.80 476.00 L226.20 472.80 L226.60 471.00 L227.00 471.43 L227.40 474.00 L227.80 477.65 L228.20 480.00 L228.60 481.05 L229.00 486.00 L229.40 487.61 L229.80 488.00 L230.20 490.85 L230.60 494.00 L231.00 497.82 L231.40 498.00 L231.70 495.94 L232.00 492.00 L232.30 495.45 L232.60 500.00 L232.90 501.74 L233.20 504.00 L233.50 505.74 L233.80 508.00 L234.00 504.31 L234.20 502.00 L234.50 510.08 L234.80 518.00 L235.10 523.42 L235.40 527.00 L235.70 518.07 L236.00 512.00 L236.30 506.28 L236.60 501.00 L236.90 499.92 L237.20 496.00 L237.50 499.70 L237.80 502.00 L238.10 504.23 L238.40 508.00 L238.70 500.23 L239.00 494.00 L239.30 486.19 L239.60 480.00 L240.00 476.98 L240.40 477.00 L240.80 476.59 L241.20 474.00 L241.60 471.57 L242.00 469.00 L242.40 467.84 L242.80 468.00 L243.20 468.64 L243.60 472.00 L244.00 470.14 L244.40 469.00 L244.80 470.51 L245.20 473.00 L245.60 475.63 L246.00 475.00 L246.40 472.56 L246.80 471.00 L247.20 469.61 L247.60 468.00 L248.00 469.52 L248.40 469.00 L248.80 470.13 L249.20 470.00 L249.60 470.83 L250.00 472.00 L250.30 464.93 L250.60 462.00 L251.00 460.33 L251.40 456.00 L251.80 454.07 L252.20 451.00 L252.60 451.09 L253.00 452.00 L253.40 453.92 L253.80 456.00 L254.20 457.10 L254.60 460.00 L255.00 463.15 L255.40 468.00 L255.80 463.59 L256.20 462.00 L256.60 463.98 L257.00 465.00 L257.40 469.99 L257.80 474.00 L258.20 481.17 L258.60 488.00 L259.00 486.74 L259.40 484.00 L259.80 480.51 L260.20 476.00 L260.30 474.12 L260.40 472.00 L260.80 469.66 L261.20 469.00 L261.60 468.06 L262.00 466.00 L262.40 470.12 L262.80 472.00 L263.20 470.60 L263.60 468.00 L264.00 467.18 L264.40 464.00 L264.80 465.55 L265.20 468.00 L265.60 463.07 L266.00 460.00 L266.30 459.18 L266.60 456.00 L266.90 458.95 L267.20 463.00 L267.60 465.73 L268.00 468.00 L268.40 466.82 L268.80 466.00 L269.20 468.52 L269.60 471.00 L270.00 468.74 L270.40 467.00 L270.80 467.99 L271.20 470.00 L271.60 470.32 L272.00 474.00 L272.40 477.30 L272.80 477.00 L273.20 474.69 L273.60 472.00 L274.00 468.18 L274.40 468.00 L274.80 469.14 L275.20 472.00 L275.60 471.44 L276.00 473.00 L276.40 473.80 L276.80 476.00 L277.20 471.59 L277.60 472.00 L278.00 473.54 L278.40 474.00 L278.80 473.55 L279.20 470.00 L279.60 472.27 L280.00 475.00 L280.40 476.70 L280.80 477.00 L281.20 479.07 L281.60 480.00 L282.00 475.82 L282.40 474.00 L282.80 474.15 L283.20 472.00 L283.60 469.41 L284.00 470.00 L284.40 471.46 L284.80 474.00 L285.20 472.16 L285.60 471.00 L286.00 470.19 L286.40 467.00 L286.80 466.11 L287.20 465.00 L287.60 466.88 L288.00 469.00 L288.40 467.24 L288.80 467.00 L289.20 470.58 L289.60 474.00 L290.00 476.54 L290.40 479.00 L290.80 478.19 L291.20 476.00 L291.60 480.82 L292.00 483.00 L292.40 482.20 L292.80 480.00 L293.20 479.02 L293.60 478.00 L294.00 481.86 L294.40 486.00 L294.80 484.01 L295.20 479.00 L295.60 480.19 L296.00 481.00 L296.40 482.48 L296.80 484.00 L297.20 482.69 L297.60 478.00 L298.00 480.98 L298.40 481.00 L298.80 483.54 L299.20 485.00 L299.60 481.40 L300.00 478.00 L300.40 478.40 L300.80 480.00 L301.20 483.01 L301.60 484.00 L302.00 485.07 L302.40 487.00 L302.80 488.40 L303.20 488.00 L303.60 489.26 L304.00 492.00 L304.40 491.60 L304.80 491.00 L305.20 492.88 L305.60 494.00 L306.00 495.64 L306.40 497.00 L306.80 497.72 L307.20 498.00 L307.30 495.36 L307.40 492.00 L307.80 486.94 L308.20 484.00 L308.60 479.96 L309.00 478.00 L309.40 475.86 L309.80 474.00 L310.20 473.70 L310.60 470.00 L311.00 467.88 L311.40 466.00 L311.80 463.13 L312.20 462.00 L312.60 461.88 L313.00 463.00 L313.40 465.03 L313.80 467.00 L314.20 471.61 L314.60 474.00 L315.00 472.97 L315.40 473.00 L315.80 476.03 L316.20 478.00 L316.60 481.18 L317.00 484.00 L317.40 482.67 L317.80 482.00 L318.20 482.61 L318.60 485.00 L319.00 485.86 L319.40 487.00 L319.80 485.82 L320.20 486.00 L320.60 482.51 L321.00 478.00 L321.40 475.34 L321.80 476.00 L322.20 478.56 L322.60 479.00 L323.00 482.21 L323.40 484.00 L323.80 481.54 L324.20 478.00 L324.60 480.91 L325.00 481.00 L325.40 479.07 L325.80 476.00 L326.20 475.89 L326.60 479.00 L327.00 484.55 L327.40 490.00 L327.80 492.42 L328.20 494.00 L328.60 494.36 L329.00 496.00 L329.40 492.94 L329.80 492.00 L330.20 499.41 L330.60 506.00 L331.00 508.48 L331.40 510.00 L331.80 508.60 L332.20 508.00 L332.60 504.77 L333.00 502.00 L333.40 495.52 L333.80 490.00 L334.20 485.97 L334.60 483.00 L335.00 480.95 L335.40 479.00 L335.80 480.51 L336.20 480.00 L336.60 475.49 L337.00 474.00 L337.40 473.18 L337.80 473.00 L338.20 476.02 L338.60 476.00 L339.00 479.30 L339.40 482.00 L339.80 484.14 L340.20 486.00 L340.60 488.78 L341.00 490.00 L341.40 490.56 L341.80 493.00 L342.20 487.36 L342.60 484.00 L343.00 478.44 L343.40 476.00 L343.80 474.13 L344.20 475.00 L344.60 473.73 L345.00 472.00 L345.40 473.80 L345.80 474.00 L346.20 470.61 L346.60 468.00 L347.00 466.36 L347.40 466.00 L347.80 466.38 L348.20 466.00 L348.60 469.08 L349.00 471.00 L349.40 472.74 L349.80 474.00 L350.20 473.21 L350.60 476.00 L351.00 474.49 L351.40 474.00 L351.80 473.12 L352.20 477.00 L352.60 478.23 L353.00 479.00 L353.40 479.70 L353.80 482.00 L354.40 483.39 L355.00 486.00 L355.40 494.41 L355.80 500.00 L356.20 504.24 L356.60 506.00 L357.00 508.45 L357.40 510.00 L357.80 515.26 L358.20 520.00 L358.60 514.16 L359.00 508.00 L359.40 510.45 L359.80 514.00 L360.20 507.95 L360.60 502.00 L361.00 495.79 L361.40 486.00 L361.80 484.68 L362.20 485.00 L362.60 485.88 L363.00 488.00 L363.40 490.15 L363.80 492.00 L364.20 494.34 L364.60 495.00 L365.00 497.28 L365.40 498.00 L365.80 494.09 L366.20 492.00 L366.60 496.88 L367.00 502.00 L367.40 504.75 L367.80 508.00 L368.20 506.84 L368.60 508.00 L369.00 507.07 L369.40 506.00 L369.80 499.55 L370.20 494.00 L370.60 489.86 L371.00 484.00 L371.40 482.41 L371.80 480.00 L372.20 477.27 L372.60 476.00 L373.00 479.08 L373.40 482.00 L373.80 483.67 L374.20 486.00 L374.60 484.41 L375.00 484.00 L375.40 482.54 L375.80 482.00 L376.20 490.00 L376.60 496.00 L377.00 493.61 L377.40 492.00 L377.80 486.40 L378.20 484.00 L378.60 480.28 L379.00 478.00 L379.40 476.76 L379.80 474.00 L380.20 475.02 L380.60 472.00 L381.00 468.01 L381.40 466.00 L381.80 463.17 L382.20 461.00 L382.60 459.69 L383.00 459.00 L383.40 459.68 L383.80 463.00 L384.20 465.38 L384.60 467.00 L385.00 469.45 L385.40 472.00 L385.80 474.76 L386.20 477.00 L386.60 480.60 L387.00 480.00 L387.40 481.75 L387.80 484.00" fill="none" stroke="#4063ab" stroke-width="1.1" stroke-linejoin="round"/>
<line x1="28.0" x2="387.8" y1="479.4" y2="482.7" stroke="#41a847" stroke-width="1.2" stroke-dasharray="2.3 1.0"/>
<line x1="309.3" x2="312.0" y1="529.1" y2="529.1" stroke="#379a44" stroke-width="1"/>
<line x1="330.3" x2="333.3" y1="529.1" y2="529.1" stroke="#efbd5e" stroke-width="1"/>
<line x1="355.4" x2="358.0" y1="529.1" y2="529.1" stroke="#a84c55" stroke-width="1"/>
</g>
<g filter="url(#bt)">
<text x="0" y="0" transform="translate(137 8.5) scale(1 1.15)" font-size="6.2" font-weight="bold" fill="#111" stroke="#111" stroke-width="0.15" textLength="136" lengthAdjust="spacingAndGlyphs">Standardized Precipitation Index: Tripoli, Libya</text>
<text x="0" y="0" transform="translate(17 122.90) scale(1 1.15)" font-size="5" font-weight="bold" text-anchor="end" fill="#2a2a2a">-4</text>
<text x="0" y="0" transform="translate(17 109.15) scale(1 1.15)" font-size="5" font-weight="bold" text-anchor="end" fill="#2a2a2a">-3</text>
<text x="0" y="0" transform="translate(17 95.40) scale(1 1.15)" font-size="5" font-weight="bold" text-anchor="end" fill="#2a2a2a">-2</text>
<text x="0" y="0" transform="translate(17 81.65) scale(1 1.15)" font-size="5" font-weight="bold" text-anchor="end" fill="#2a2a2a">-1</text>
<text x="0" y="0" transform="translate(17 67.90) scale(1 1.15)" font-size="5" font-weight="bold" text-anchor="end" fill="#2a2a2a">0</text>
<text x="0" y="0" transform="translate(17 54.15) scale(1 1.15)" font-size="5" font-weight="bold" text-anchor="end" fill="#2a2a2a">1</text>
<text x="0" y="0" transform="translate(17 40.40) scale(1 1.15)" font-size="5" font-weight="bold" text-anchor="end" fill="#2a2a2a">2</text>
<text x="0" y="0" transform="translate(17 26.65) scale(1 1.15)" font-size="5" font-weight="bold" text-anchor="end" fill="#2a2a2a">3</text>
<text x="0" y="0" transform="translate(17 12.90) scale(1 1.15)" font-size="5" font-weight="bold" text-anchor="end" fill="#2a2a2a">4</text>
<text x="0" y="0" transform="translate(77.5 130.20) scale(1 1.15)" font-size="5" font-weight="bold" text-anchor="middle" fill="#111" stroke="#111" stroke-width="0.15">1919</text>
<text x="0" y="0" transform="translate(153.8 130.20) scale(1 1.15)" font-size="5" font-weight="bold" text-anchor="middle" fill="#111" stroke="#111" stroke-width="0.15">1944</text>
<text x="0" y="0" transform="translate(230.3 130.20) scale(1 1.15)" font-size="5" font-weight="bold" text-anchor="middle" fill="#111" stroke="#111" stroke-width="0.15">1969</text>
<text x="0" y="0" transform="translate(306.3 130.20) scale(1 1.15)" font-size="5" font-weight="bold" text-anchor="middle" fill="#111" stroke="#111" stroke-width="0.15">1994</text>
<text x="0" y="0" transform="translate(382.90000000000003 130.20) scale(1 1.15)" font-size="5" font-weight="bold" text-anchor="middle" fill="#111" stroke="#111" stroke-width="0.15">2019</text>
<text x="0" y="0" font-size="5" font-weight="bold" text-anchor="middle" fill="#111" stroke="#111" stroke-width="0.15" transform="translate(9.3 66.70) rotate(-90) scale(1 1.15)">SPI3</text>
<text x="0" y="0" transform="translate(232.8 21.70) scale(1 1.12)" font-size="5.4" font-style="italic" fill="#1a1a1a" stroke="#1a1a1a" stroke-width="0.18" textLength="94.5" lengthAdjust="spacingAndGlyphs">y = −1.379 × 10<tspan font-size="3.4" dy="-1.8">−6</tspan><tspan dy="1.8"> × x + 7.429 × 10</tspan><tspan font-size="3.4" dy="-1.8">−4</tspan></text>
<text x="0" y="0" transform="translate(17 261.70) scale(1 1.15)" font-size="5" font-weight="bold" text-anchor="end" fill="#2a2a2a">-4</text>
<text x="0" y="0" transform="translate(17 247.95) scale(1 1.15)" font-size="5" font-weight="bold" text-anchor="end" fill="#2a2a2a">-3</text>
<text x="0" y="0" transform="translate(17 234.20) scale(1 1.15)" font-size="5" font-weight="bold" text-anchor="end" fill="#2a2a2a">-2</text>
<text x="0" y="0" transform="translate(17 220.45) scale(1 1.15)" font-size="5" font-weight="bold" text-anchor="end" fill="#2a2a2a">-1</text>
<text x="0" y="0" transform="translate(17 206.70) scale(1 1.15)" font-size="5" font-weight="bold" text-anchor="end" fill="#2a2a2a">0</text>
<text x="0" y="0" transform="translate(17 192.95) scale(1 1.15)" font-size="5" font-weight="bold" text-anchor="end" fill="#2a2a2a">1</text>
<text x="0" y="0" transform="translate(17 179.20) scale(1 1.15)" font-size="5" font-weight="bold" text-anchor="end" fill="#2a2a2a">2</text>
<text x="0" y="0" transform="translate(17 165.45) scale(1 1.15)" font-size="5" font-weight="bold" text-anchor="end" fill="#2a2a2a">3</text>
<text x="0" y="0" transform="translate(17 151.70) scale(1 1.15)" font-size="5" font-weight="bold" text-anchor="end" fill="#2a2a2a">4</text>
<text x="0" y="0" transform="translate(77.5 269.00) scale(1 1.15)" font-size="5" font-weight="bold" text-anchor="middle" fill="#111" stroke="#111" stroke-width="0.15">1919</text>
<text x="0" y="0" transform="translate(153.8 269.00) scale(1 1.15)" font-size="5" font-weight="bold" text-anchor="middle" fill="#111" stroke="#111" stroke-width="0.15">1944</text>
<text x="0" y="0" transform="translate(230.3 269.00) scale(1 1.15)" font-size="5" font-weight="bold" text-anchor="middle" fill="#111" stroke="#111" stroke-width="0.15">1969</text>
<text x="0" y="0" transform="translate(306.3 269.00) scale(1 1.15)" font-size="5" font-weight="bold" text-anchor="middle" fill="#111" stroke="#111" stroke-width="0.15">1994</text>
<text x="0" y="0" transform="translate(382.90000000000003 269.00) scale(1 1.15)" font-size="5" font-weight="bold" text-anchor="middle" fill="#111" stroke="#111" stroke-width="0.15">2019</text>
<text x="0" y="0" font-size="5" font-weight="bold" text-anchor="middle" fill="#111" stroke="#111" stroke-width="0.15" transform="translate(9.3 205.50) rotate(-90) scale(1 1.15)">SPI6</text>
<text x="0" y="0" transform="translate(232.8 159.70) scale(1 1.12)" font-size="5.4" font-style="italic" fill="#1a1a1a" stroke="#1a1a1a" stroke-width="0.18" textLength="94.5" lengthAdjust="spacingAndGlyphs">y = −1.704 × 10<tspan font-size="3.4" dy="-1.8">−6</tspan><tspan dy="1.8"> × x + −4.76 × 10</tspan><tspan font-size="3.4" dy="-1.8">−3</tspan></text>
<text x="0" y="0" transform="translate(17 399.90) scale(1 1.15)" font-size="5" font-weight="bold" text-anchor="end" fill="#2a2a2a">-4</text>
<text x="0" y="0" transform="translate(17 386.15) scale(1 1.15)" font-size="5" font-weight="bold" text-anchor="end" fill="#2a2a2a">-3</text>
<text x="0" y="0" transform="translate(17 372.40) scale(1 1.15)" font-size="5" font-weight="bold" text-anchor="end" fill="#2a2a2a">-2</text>
<text x="0" y="0" transform="translate(17 358.65) scale(1 1.15)" font-size="5" font-weight="bold" text-anchor="end" fill="#2a2a2a">-1</text>
<text x="0" y="0" transform="translate(17 344.90) scale(1 1.15)" font-size="5" font-weight="bold" text-anchor="end" fill="#2a2a2a">0</text>
<text x="0" y="0" transform="translate(17 331.15) scale(1 1.15)" font-size="5" font-weight="bold" text-anchor="end" fill="#2a2a2a">1</text>
<text x="0" y="0" transform="translate(17 317.40) scale(1 1.15)" font-size="5" font-weight="bold" text-anchor="end" fill="#2a2a2a">2</text>
<text x="0" y="0" transform="translate(17 303.65) scale(1 1.15)" font-size="5" font-weight="bold" text-anchor="end" fill="#2a2a2a">3</text>
<text x="0" y="0" transform="translate(17 289.90) scale(1 1.15)" font-size="5" font-weight="bold" text-anchor="end" fill="#2a2a2a">4</text>
<text x="0" y="0" transform="translate(77.5 407.20) scale(1 1.15)" font-size="5" font-weight="bold" text-anchor="middle" fill="#111" stroke="#111" stroke-width="0.15">1919</text>
<text x="0" y="0" transform="translate(153.8 407.20) scale(1 1.15)" font-size="5" font-weight="bold" text-anchor="middle" fill="#111" stroke="#111" stroke-width="0.15">1944</text>
<text x="0" y="0" transform="translate(230.3 407.20) scale(1 1.15)" font-size="5" font-weight="bold" text-anchor="middle" fill="#111" stroke="#111" stroke-width="0.15">1969</text>
<text x="0" y="0" transform="translate(306.3 407.20) scale(1 1.15)" font-size="5" font-weight="bold" text-anchor="middle" fill="#111" stroke="#111" stroke-width="0.15">1994</text>
<text x="0" y="0" transform="translate(382.90000000000003 407.20) scale(1 1.15)" font-size="5" font-weight="bold" text-anchor="middle" fill="#111" stroke="#111" stroke-width="0.15">2019</text>
<text x="0" y="0" font-size="5" font-weight="bold" text-anchor="middle" fill="#111" stroke="#111" stroke-width="0.15" transform="translate(9.3 343.70) rotate(-90) scale(1 1.15)">SPI12</text>
<text x="0" y="0" transform="translate(232.8 298.20) scale(1 1.12)" font-size="5.4" font-style="italic" fill="#1a1a1a" stroke="#1a1a1a" stroke-width="0.18" textLength="94.5" lengthAdjust="spacingAndGlyphs">y = −4.999 × 10<tspan font-size="3.4" dy="-1.8">−6</tspan><tspan dy="1.8"> × x + −1.678 × 10</tspan><tspan font-size="3.4" dy="-1.8">−3</tspan></text>
<text x="0" y="0" transform="translate(17 537.90) scale(1 1.15)" font-size="5" font-weight="bold" text-anchor="end" fill="#2a2a2a">-4</text>
<text x="0" y="0" transform="translate(17 524.15) scale(1 1.15)" font-size="5" font-weight="bold" text-anchor="end" fill="#2a2a2a">-3</text>
<text x="0" y="0" transform="translate(17 510.40) scale(1 1.15)" font-size="5" font-weight="bold" text-anchor="end" fill="#2a2a2a">-2</text>
<text x="0" y="0" transform="translate(17 496.65) scale(1 1.15)" font-size="5" font-weight="bold" text-anchor="end" fill="#2a2a2a">-1</text>
<text x="0" y="0" transform="translate(17 482.90) scale(1 1.15)" font-size="5" font-weight="bold" text-anchor="end" fill="#2a2a2a">0</text>
<text x="0" y="0" transform="translate(17 469.15) scale(1 1.15)" font-size="5" font-weight="bold" text-anchor="end" fill="#2a2a2a">1</text>
<text x="0" y="0" transform="translate(17 455.40) scale(1 1.15)" font-size="5" font-weight="bold" text-anchor="end" fill="#2a2a2a">2</text>
<text x="0" y="0" transform="translate(17 441.65) scale(1 1.15)" font-size="5" font-weight="bold" text-anchor="end" fill="#2a2a2a">3</text>
<text x="0" y="0" transform="translate(17 427.90) scale(1 1.15)" font-size="5" font-weight="bold" text-anchor="end" fill="#2a2a2a">4</text>
<text x="0" y="0" transform="translate(77.5 545.20) scale(1 1.15)" font-size="5" font-weight="bold" text-anchor="middle" fill="#111" stroke="#111" stroke-width="0.15">1919</text>
<text x="0" y="0" transform="translate(153.8 545.20) scale(1 1.15)" font-size="5" font-weight="bold" text-anchor="middle" fill="#111" stroke="#111" stroke-width="0.15">1944</text>
<text x="0" y="0" transform="translate(230.3 545.20) scale(1 1.15)" font-size="5" font-weight="bold" text-anchor="middle" fill="#111" stroke="#111" stroke-width="0.15">1969</text>
<text x="0" y="0" transform="translate(306.3 545.20) scale(1 1.15)" font-size="5" font-weight="bold" text-anchor="middle" fill="#111" stroke="#111" stroke-width="0.15">1994</text>
<text x="0" y="0" transform="translate(382.90000000000003 545.20) scale(1 1.15)" font-size="5" font-weight="bold" text-anchor="middle" fill="#111" stroke="#111" stroke-width="0.15">2019</text>
<text x="0" y="0" font-size="5" font-weight="bold" text-anchor="middle" fill="#111" stroke="#111" stroke-width="0.15" transform="translate(9.3 481.70) rotate(-90) scale(1 1.15)">SPI24</text>
<text x="0" y="0" transform="translate(232.8 436.30) scale(1 1.12)" font-size="5.4" font-style="italic" fill="#1a1a1a" stroke="#1a1a1a" stroke-width="0.18" textLength="94.5" lengthAdjust="spacingAndGlyphs">y = −6.042 × 10<tspan font-size="3.4" dy="-1.8">−6</tspan><tspan dy="1.8"> × x + −3.045 × 10</tspan><tspan font-size="3.4" dy="-1.8">−3</tspan></text>
<text x="0" y="0" transform="translate(312.8 530.8) scale(1 1.1)" font-size="4.6" font-style="italic" fill="#333" stroke="#333" stroke-width="0.05" textLength="13.5" lengthAdjust="spacingAndGlyphs">Trend</text>
<text x="0" y="0" transform="translate(334.4 530.8) scale(1 1.1)" font-size="4.6" font-style="italic" fill="#333" stroke="#333" stroke-width="0.05" textLength="17.6" lengthAdjust="spacingAndGlyphs">SPI = −1</text>
<text x="0" y="0" transform="translate(359.7 530.8) scale(1 1.1)" font-size="4.6" font-style="italic" fill="#333" stroke="#333" stroke-width="0.05" textLength="17.2" lengthAdjust="spacingAndGlyphs">SPI = −2</text>
</g>
</svg></body></html>
